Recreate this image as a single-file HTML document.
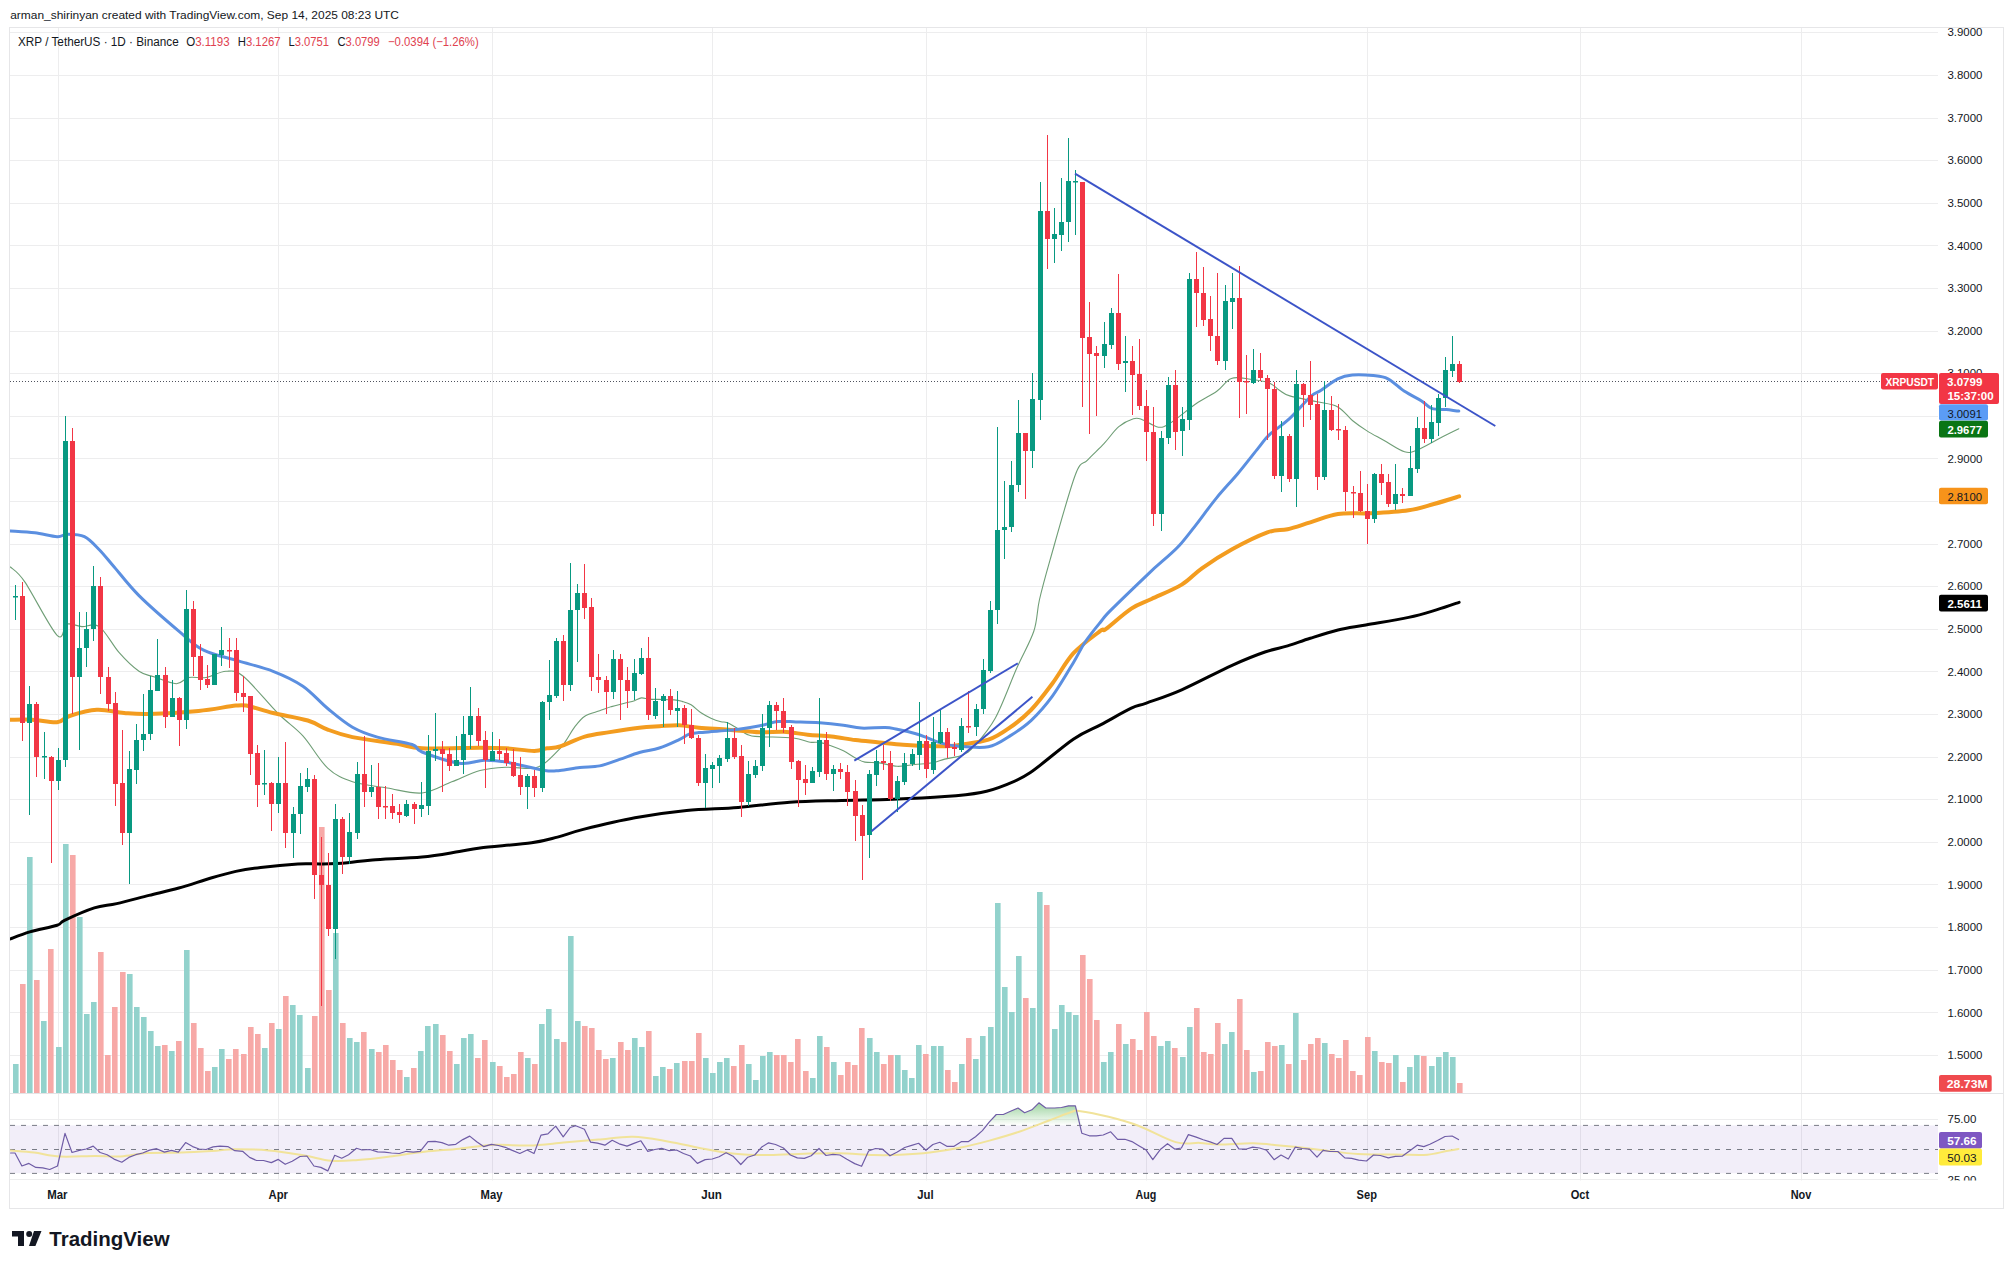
<!DOCTYPE html><html><head><meta charset="utf-8"><style>html,body{margin:0;padding:0;background:#fff;}body{width:2014px;height:1269px;overflow:hidden;position:relative;font-family:"Liberation Sans", sans-serif;}svg{position:absolute;left:0;top:0;}</style></head><body>
<svg width="2014" height="1269" viewBox="0 0 2014 1269" font-family='"Liberation Sans", sans-serif'>
<rect x="0" y="0" width="2014" height="1269" fill="#ffffff"/>
<rect x="9.5" y="27.5" width="1994" height="1181" fill="none" stroke="#e6e6e8" stroke-width="1"/>
<defs><clipPath id="cp"><rect x="10" y="28" width="1928" height="1065"/></clipPath><clipPath id="cr"><rect x="10" y="1094" width="1928" height="86.5"/></clipPath><linearGradient id="gob" x1="0" y1="0" x2="0" y2="1"><stop offset="0" stop-color="#4caf50" stop-opacity="0.55"/><stop offset="1" stop-color="#4caf50" stop-opacity="0.0"/></linearGradient></defs>
<line x1="58.5" y1="28" x2="58.5" y2="1180.5" stroke="#ededee" stroke-width="1"/>
<line x1="278.5" y1="28" x2="278.5" y2="1180.5" stroke="#ededee" stroke-width="1"/>
<line x1="492.5" y1="28" x2="492.5" y2="1180.5" stroke="#ededee" stroke-width="1"/>
<line x1="712.5" y1="28" x2="712.5" y2="1180.5" stroke="#ededee" stroke-width="1"/>
<line x1="926.5" y1="28" x2="926.5" y2="1180.5" stroke="#ededee" stroke-width="1"/>
<line x1="1146.5" y1="28" x2="1146.5" y2="1180.5" stroke="#ededee" stroke-width="1"/>
<line x1="1367.5" y1="28" x2="1367.5" y2="1180.5" stroke="#ededee" stroke-width="1"/>
<line x1="1580.5" y1="28" x2="1580.5" y2="1180.5" stroke="#ededee" stroke-width="1"/>
<line x1="1801.5" y1="28" x2="1801.5" y2="1180.5" stroke="#ededee" stroke-width="1"/>
<line x1="10" y1="32.5" x2="1938" y2="32.5" stroke="#ededee" stroke-width="1"/>
<line x1="10" y1="75.5" x2="1938" y2="75.5" stroke="#ededee" stroke-width="1"/>
<line x1="10" y1="118.5" x2="1938" y2="118.5" stroke="#ededee" stroke-width="1"/>
<line x1="10" y1="160.5" x2="1938" y2="160.5" stroke="#ededee" stroke-width="1"/>
<line x1="10" y1="203.5" x2="1938" y2="203.5" stroke="#ededee" stroke-width="1"/>
<line x1="10" y1="245.5" x2="1938" y2="245.5" stroke="#ededee" stroke-width="1"/>
<line x1="10" y1="288.5" x2="1938" y2="288.5" stroke="#ededee" stroke-width="1"/>
<line x1="10" y1="331.5" x2="1938" y2="331.5" stroke="#ededee" stroke-width="1"/>
<line x1="10" y1="373.5" x2="1938" y2="373.5" stroke="#ededee" stroke-width="1"/>
<line x1="10" y1="416.5" x2="1938" y2="416.5" stroke="#ededee" stroke-width="1"/>
<line x1="10" y1="458.5" x2="1938" y2="458.5" stroke="#ededee" stroke-width="1"/>
<line x1="10" y1="501.5" x2="1938" y2="501.5" stroke="#ededee" stroke-width="1"/>
<line x1="10" y1="544.5" x2="1938" y2="544.5" stroke="#ededee" stroke-width="1"/>
<line x1="10" y1="586.5" x2="1938" y2="586.5" stroke="#ededee" stroke-width="1"/>
<line x1="10" y1="629.5" x2="1938" y2="629.5" stroke="#ededee" stroke-width="1"/>
<line x1="10" y1="671.5" x2="1938" y2="671.5" stroke="#ededee" stroke-width="1"/>
<line x1="10" y1="714.5" x2="1938" y2="714.5" stroke="#ededee" stroke-width="1"/>
<line x1="10" y1="757.5" x2="1938" y2="757.5" stroke="#ededee" stroke-width="1"/>
<line x1="10" y1="799.5" x2="1938" y2="799.5" stroke="#ededee" stroke-width="1"/>
<line x1="10" y1="842.5" x2="1938" y2="842.5" stroke="#ededee" stroke-width="1"/>
<line x1="10" y1="884.5" x2="1938" y2="884.5" stroke="#ededee" stroke-width="1"/>
<line x1="10" y1="927.5" x2="1938" y2="927.5" stroke="#ededee" stroke-width="1"/>
<line x1="10" y1="970.5" x2="1938" y2="970.5" stroke="#ededee" stroke-width="1"/>
<line x1="10" y1="1012.5" x2="1938" y2="1012.5" stroke="#ededee" stroke-width="1"/>
<line x1="10" y1="1055.5" x2="1938" y2="1055.5" stroke="#ededee" stroke-width="1"/>
<line x1="10" y1="1093.5" x2="2003" y2="1093.5" stroke="#e4e4e6" stroke-width="1"/>
<line x1="10" y1="1119.5" x2="1938" y2="1119.5" stroke="#ededee" stroke-width="1"/>
<line x1="10" y1="1179.5" x2="1938" y2="1179.5" stroke="#ededee" stroke-width="1"/>
<g clip-path="url(#cp)">
<rect x="13" y="1064.0" width="5.6" height="29.0" fill="#92d2cc"/>
<rect x="20" y="984.0" width="5.6" height="109.0" fill="#f7a9a7"/>
<rect x="27" y="857.0" width="5.6" height="236.0" fill="#92d2cc"/>
<rect x="34" y="980.0" width="5.6" height="113.0" fill="#f7a9a7"/>
<rect x="41" y="1021.0" width="5.6" height="72.0" fill="#92d2cc"/>
<rect x="48" y="949.0" width="5.6" height="144.0" fill="#f7a9a7"/>
<rect x="56" y="1047.0" width="5.6" height="46.0" fill="#92d2cc"/>
<rect x="63" y="844.0" width="5.6" height="249.0" fill="#92d2cc"/>
<rect x="70" y="855.0" width="5.6" height="238.0" fill="#f7a9a7"/>
<rect x="77" y="917.0" width="5.6" height="176.0" fill="#92d2cc"/>
<rect x="84" y="1014.0" width="5.6" height="79.0" fill="#92d2cc"/>
<rect x="91" y="1002.0" width="5.6" height="91.0" fill="#92d2cc"/>
<rect x="98" y="952.0" width="5.6" height="141.0" fill="#f7a9a7"/>
<rect x="105" y="1055.0" width="5.6" height="38.0" fill="#f7a9a7"/>
<rect x="112" y="1007.0" width="5.6" height="86.0" fill="#f7a9a7"/>
<rect x="120" y="972.0" width="5.6" height="121.0" fill="#f7a9a7"/>
<rect x="127" y="974.0" width="5.6" height="119.0" fill="#92d2cc"/>
<rect x="134" y="1007.0" width="5.6" height="86.0" fill="#92d2cc"/>
<rect x="141" y="1017.0" width="5.6" height="76.0" fill="#92d2cc"/>
<rect x="148" y="1031.0" width="5.6" height="62.0" fill="#92d2cc"/>
<rect x="155" y="1046.0" width="5.6" height="47.0" fill="#92d2cc"/>
<rect x="162" y="1045.0" width="5.6" height="48.0" fill="#f7a9a7"/>
<rect x="169" y="1051.0" width="5.6" height="42.0" fill="#92d2cc"/>
<rect x="176" y="1041.0" width="5.6" height="52.0" fill="#f7a9a7"/>
<rect x="184" y="950.0" width="5.6" height="143.0" fill="#92d2cc"/>
<rect x="191" y="1023.0" width="5.6" height="70.0" fill="#f7a9a7"/>
<rect x="198" y="1048.0" width="5.6" height="45.0" fill="#f7a9a7"/>
<rect x="205" y="1071.0" width="5.6" height="22.0" fill="#f7a9a7"/>
<rect x="212" y="1067.0" width="5.6" height="26.0" fill="#92d2cc"/>
<rect x="219" y="1049.0" width="5.6" height="44.0" fill="#92d2cc"/>
<rect x="226" y="1059.0" width="5.6" height="34.0" fill="#f7a9a7"/>
<rect x="233" y="1049.0" width="5.6" height="44.0" fill="#f7a9a7"/>
<rect x="241" y="1054.0" width="5.6" height="39.0" fill="#f7a9a7"/>
<rect x="248" y="1027.0" width="5.6" height="66.0" fill="#f7a9a7"/>
<rect x="255" y="1034.0" width="5.6" height="59.0" fill="#f7a9a7"/>
<rect x="262" y="1048.0" width="5.6" height="45.0" fill="#92d2cc"/>
<rect x="269" y="1023.0" width="5.6" height="70.0" fill="#f7a9a7"/>
<rect x="276" y="1029.0" width="5.6" height="64.0" fill="#92d2cc"/>
<rect x="283" y="996.0" width="5.6" height="97.0" fill="#f7a9a7"/>
<rect x="290" y="1005.0" width="5.6" height="88.0" fill="#92d2cc"/>
<rect x="297" y="1015.0" width="5.6" height="78.0" fill="#92d2cc"/>
<rect x="305" y="1068.0" width="5.6" height="25.0" fill="#92d2cc"/>
<rect x="312" y="1016.0" width="5.6" height="77.0" fill="#f7a9a7"/>
<rect x="319" y="827.0" width="5.6" height="266.0" fill="#f7a9a7"/>
<rect x="326" y="990.0" width="5.6" height="103.0" fill="#f7a9a7"/>
<rect x="333" y="933.0" width="5.6" height="160.0" fill="#92d2cc"/>
<rect x="340" y="1023.0" width="5.6" height="70.0" fill="#f7a9a7"/>
<rect x="347" y="1038.0" width="5.6" height="55.0" fill="#92d2cc"/>
<rect x="354" y="1042.0" width="5.6" height="51.0" fill="#92d2cc"/>
<rect x="361" y="1032.0" width="5.6" height="61.0" fill="#f7a9a7"/>
<rect x="369" y="1049.0" width="5.6" height="44.0" fill="#92d2cc"/>
<rect x="376" y="1052.0" width="5.6" height="41.0" fill="#f7a9a7"/>
<rect x="383" y="1045.0" width="5.6" height="48.0" fill="#f7a9a7"/>
<rect x="390" y="1060.0" width="5.6" height="33.0" fill="#f7a9a7"/>
<rect x="397" y="1070.0" width="5.6" height="23.0" fill="#f7a9a7"/>
<rect x="404" y="1077.0" width="5.6" height="16.0" fill="#92d2cc"/>
<rect x="411" y="1068.0" width="5.6" height="25.0" fill="#f7a9a7"/>
<rect x="418" y="1051.0" width="5.6" height="42.0" fill="#92d2cc"/>
<rect x="425" y="1026.0" width="5.6" height="67.0" fill="#92d2cc"/>
<rect x="433" y="1024.0" width="5.6" height="69.0" fill="#92d2cc"/>
<rect x="440" y="1035.0" width="5.6" height="58.0" fill="#f7a9a7"/>
<rect x="447" y="1051.0" width="5.6" height="42.0" fill="#f7a9a7"/>
<rect x="454" y="1064.0" width="5.6" height="29.0" fill="#92d2cc"/>
<rect x="461" y="1038.0" width="5.6" height="55.0" fill="#92d2cc"/>
<rect x="468" y="1034.0" width="5.6" height="59.0" fill="#92d2cc"/>
<rect x="475" y="1058.0" width="5.6" height="35.0" fill="#f7a9a7"/>
<rect x="482" y="1040.0" width="5.6" height="53.0" fill="#f7a9a7"/>
<rect x="490" y="1062.0" width="5.6" height="31.0" fill="#92d2cc"/>
<rect x="497" y="1066.0" width="5.6" height="27.0" fill="#f7a9a7"/>
<rect x="504" y="1077.0" width="5.6" height="16.0" fill="#f7a9a7"/>
<rect x="511" y="1074.0" width="5.6" height="19.0" fill="#f7a9a7"/>
<rect x="518" y="1052.0" width="5.6" height="41.0" fill="#f7a9a7"/>
<rect x="525" y="1058.0" width="5.6" height="35.0" fill="#92d2cc"/>
<rect x="532" y="1064.0" width="5.6" height="29.0" fill="#f7a9a7"/>
<rect x="539" y="1024.0" width="5.6" height="69.0" fill="#92d2cc"/>
<rect x="546" y="1009.0" width="5.6" height="84.0" fill="#92d2cc"/>
<rect x="554" y="1039.0" width="5.6" height="54.0" fill="#92d2cc"/>
<rect x="561" y="1042.0" width="5.6" height="51.0" fill="#f7a9a7"/>
<rect x="568" y="936.0" width="5.6" height="157.0" fill="#92d2cc"/>
<rect x="575" y="1021.0" width="5.6" height="72.0" fill="#92d2cc"/>
<rect x="582" y="1026.0" width="5.6" height="67.0" fill="#f7a9a7"/>
<rect x="589" y="1028.0" width="5.6" height="65.0" fill="#f7a9a7"/>
<rect x="596" y="1050.0" width="5.6" height="43.0" fill="#f7a9a7"/>
<rect x="603" y="1059.0" width="5.6" height="34.0" fill="#f7a9a7"/>
<rect x="610" y="1058.0" width="5.6" height="35.0" fill="#92d2cc"/>
<rect x="618" y="1042.0" width="5.6" height="51.0" fill="#f7a9a7"/>
<rect x="625" y="1050.0" width="5.6" height="43.0" fill="#f7a9a7"/>
<rect x="632" y="1038.0" width="5.6" height="55.0" fill="#92d2cc"/>
<rect x="639" y="1047.0" width="5.6" height="46.0" fill="#92d2cc"/>
<rect x="646" y="1031.0" width="5.6" height="62.0" fill="#f7a9a7"/>
<rect x="653" y="1076.0" width="5.6" height="17.0" fill="#92d2cc"/>
<rect x="660" y="1067.0" width="5.6" height="26.0" fill="#92d2cc"/>
<rect x="667" y="1069.0" width="5.6" height="24.0" fill="#f7a9a7"/>
<rect x="674" y="1063.0" width="5.6" height="30.0" fill="#92d2cc"/>
<rect x="682" y="1061.0" width="5.6" height="32.0" fill="#f7a9a7"/>
<rect x="689" y="1061.0" width="5.6" height="32.0" fill="#f7a9a7"/>
<rect x="696" y="1033.0" width="5.6" height="60.0" fill="#f7a9a7"/>
<rect x="703" y="1058.0" width="5.6" height="35.0" fill="#92d2cc"/>
<rect x="710" y="1073.0" width="5.6" height="20.0" fill="#92d2cc"/>
<rect x="717" y="1062.0" width="5.6" height="31.0" fill="#92d2cc"/>
<rect x="724" y="1058.0" width="5.6" height="35.0" fill="#92d2cc"/>
<rect x="731" y="1066.0" width="5.6" height="27.0" fill="#f7a9a7"/>
<rect x="739" y="1045.0" width="5.6" height="48.0" fill="#f7a9a7"/>
<rect x="746" y="1064.0" width="5.6" height="29.0" fill="#92d2cc"/>
<rect x="753" y="1080.0" width="5.6" height="13.0" fill="#92d2cc"/>
<rect x="760" y="1056.0" width="5.6" height="37.0" fill="#92d2cc"/>
<rect x="767" y="1052.0" width="5.6" height="41.0" fill="#92d2cc"/>
<rect x="774" y="1055.0" width="5.6" height="38.0" fill="#f7a9a7"/>
<rect x="781" y="1055.0" width="5.6" height="38.0" fill="#f7a9a7"/>
<rect x="788" y="1062.0" width="5.6" height="31.0" fill="#f7a9a7"/>
<rect x="795" y="1039.0" width="5.6" height="54.0" fill="#f7a9a7"/>
<rect x="803" y="1071.0" width="5.6" height="22.0" fill="#f7a9a7"/>
<rect x="810" y="1078.0" width="5.6" height="15.0" fill="#92d2cc"/>
<rect x="817" y="1036.0" width="5.6" height="57.0" fill="#92d2cc"/>
<rect x="824" y="1047.0" width="5.6" height="46.0" fill="#f7a9a7"/>
<rect x="831" y="1062.0" width="5.6" height="31.0" fill="#92d2cc"/>
<rect x="838" y="1075.0" width="5.6" height="18.0" fill="#f7a9a7"/>
<rect x="845" y="1062.0" width="5.6" height="31.0" fill="#f7a9a7"/>
<rect x="852" y="1065.0" width="5.6" height="28.0" fill="#f7a9a7"/>
<rect x="859" y="1028.0" width="5.6" height="65.0" fill="#f7a9a7"/>
<rect x="867" y="1038.0" width="5.6" height="55.0" fill="#92d2cc"/>
<rect x="874" y="1052.0" width="5.6" height="41.0" fill="#92d2cc"/>
<rect x="881" y="1064.0" width="5.6" height="29.0" fill="#f7a9a7"/>
<rect x="888" y="1055.0" width="5.6" height="38.0" fill="#f7a9a7"/>
<rect x="895" y="1055.0" width="5.6" height="38.0" fill="#92d2cc"/>
<rect x="902" y="1070.0" width="5.6" height="23.0" fill="#92d2cc"/>
<rect x="909" y="1078.0" width="5.6" height="15.0" fill="#92d2cc"/>
<rect x="916" y="1045.0" width="5.6" height="48.0" fill="#92d2cc"/>
<rect x="923" y="1054.0" width="5.6" height="39.0" fill="#f7a9a7"/>
<rect x="931" y="1046.0" width="5.6" height="47.0" fill="#92d2cc"/>
<rect x="938" y="1046.0" width="5.6" height="47.0" fill="#92d2cc"/>
<rect x="945" y="1070.0" width="5.6" height="23.0" fill="#f7a9a7"/>
<rect x="952" y="1082.0" width="5.6" height="11.0" fill="#f7a9a7"/>
<rect x="959" y="1064.0" width="5.6" height="29.0" fill="#92d2cc"/>
<rect x="966" y="1038.0" width="5.6" height="55.0" fill="#f7a9a7"/>
<rect x="973" y="1059.0" width="5.6" height="34.0" fill="#92d2cc"/>
<rect x="980" y="1036.0" width="5.6" height="57.0" fill="#92d2cc"/>
<rect x="988" y="1027.0" width="5.6" height="66.0" fill="#92d2cc"/>
<rect x="995" y="903.0" width="5.6" height="190.0" fill="#92d2cc"/>
<rect x="1002" y="987.0" width="5.6" height="106.0" fill="#92d2cc"/>
<rect x="1009" y="1012.0" width="5.6" height="81.0" fill="#92d2cc"/>
<rect x="1016" y="956.0" width="5.6" height="137.0" fill="#92d2cc"/>
<rect x="1023" y="998.0" width="5.6" height="95.0" fill="#f7a9a7"/>
<rect x="1030" y="1008.0" width="5.6" height="85.0" fill="#92d2cc"/>
<rect x="1037" y="892.0" width="5.6" height="201.0" fill="#92d2cc"/>
<rect x="1044" y="905.0" width="5.6" height="188.0" fill="#f7a9a7"/>
<rect x="1052" y="1029.0" width="5.6" height="64.0" fill="#92d2cc"/>
<rect x="1059" y="1005.0" width="5.6" height="88.0" fill="#92d2cc"/>
<rect x="1066" y="1012.0" width="5.6" height="81.0" fill="#92d2cc"/>
<rect x="1073" y="1015.0" width="5.6" height="78.0" fill="#92d2cc"/>
<rect x="1080" y="955.0" width="5.6" height="138.0" fill="#f7a9a7"/>
<rect x="1087" y="979.0" width="5.6" height="114.0" fill="#f7a9a7"/>
<rect x="1094" y="1020.0" width="5.6" height="73.0" fill="#f7a9a7"/>
<rect x="1101" y="1062.0" width="5.6" height="31.0" fill="#92d2cc"/>
<rect x="1108" y="1052.0" width="5.6" height="41.0" fill="#92d2cc"/>
<rect x="1116" y="1024.0" width="5.6" height="69.0" fill="#f7a9a7"/>
<rect x="1123" y="1044.0" width="5.6" height="49.0" fill="#92d2cc"/>
<rect x="1130" y="1039.0" width="5.6" height="54.0" fill="#f7a9a7"/>
<rect x="1137" y="1050.0" width="5.6" height="43.0" fill="#f7a9a7"/>
<rect x="1144" y="1012.0" width="5.6" height="81.0" fill="#f7a9a7"/>
<rect x="1151" y="1036.0" width="5.6" height="57.0" fill="#f7a9a7"/>
<rect x="1158" y="1046.0" width="5.6" height="47.0" fill="#92d2cc"/>
<rect x="1165" y="1041.0" width="5.6" height="52.0" fill="#92d2cc"/>
<rect x="1172" y="1048.0" width="5.6" height="45.0" fill="#f7a9a7"/>
<rect x="1180" y="1057.0" width="5.6" height="36.0" fill="#92d2cc"/>
<rect x="1187" y="1027.0" width="5.6" height="66.0" fill="#92d2cc"/>
<rect x="1194" y="1008.0" width="5.6" height="85.0" fill="#f7a9a7"/>
<rect x="1201" y="1052.0" width="5.6" height="41.0" fill="#f7a9a7"/>
<rect x="1208" y="1054.0" width="5.6" height="39.0" fill="#f7a9a7"/>
<rect x="1215" y="1023.0" width="5.6" height="70.0" fill="#f7a9a7"/>
<rect x="1222" y="1044.0" width="5.6" height="49.0" fill="#92d2cc"/>
<rect x="1229" y="1032.0" width="5.6" height="61.0" fill="#92d2cc"/>
<rect x="1237" y="999.0" width="5.6" height="94.0" fill="#f7a9a7"/>
<rect x="1244" y="1050.0" width="5.6" height="43.0" fill="#f7a9a7"/>
<rect x="1251" y="1072.0" width="5.6" height="21.0" fill="#92d2cc"/>
<rect x="1258" y="1071.0" width="5.6" height="22.0" fill="#f7a9a7"/>
<rect x="1265" y="1042.0" width="5.6" height="51.0" fill="#f7a9a7"/>
<rect x="1272" y="1046.0" width="5.6" height="47.0" fill="#f7a9a7"/>
<rect x="1279" y="1045.0" width="5.6" height="48.0" fill="#92d2cc"/>
<rect x="1286" y="1064.0" width="5.6" height="29.0" fill="#f7a9a7"/>
<rect x="1293" y="1013.0" width="5.6" height="80.0" fill="#92d2cc"/>
<rect x="1301" y="1060.0" width="5.6" height="33.0" fill="#f7a9a7"/>
<rect x="1308" y="1044.0" width="5.6" height="49.0" fill="#f7a9a7"/>
<rect x="1315" y="1038.0" width="5.6" height="55.0" fill="#f7a9a7"/>
<rect x="1322" y="1043.0" width="5.6" height="50.0" fill="#92d2cc"/>
<rect x="1329" y="1054.0" width="5.6" height="39.0" fill="#f7a9a7"/>
<rect x="1336" y="1058.0" width="5.6" height="35.0" fill="#f7a9a7"/>
<rect x="1343" y="1040.0" width="5.6" height="53.0" fill="#f7a9a7"/>
<rect x="1350" y="1071.0" width="5.6" height="22.0" fill="#f7a9a7"/>
<rect x="1357" y="1075.0" width="5.6" height="18.0" fill="#f7a9a7"/>
<rect x="1365" y="1037.0" width="5.6" height="56.0" fill="#f7a9a7"/>
<rect x="1372" y="1051.0" width="5.6" height="42.0" fill="#92d2cc"/>
<rect x="1379" y="1062.0" width="5.6" height="31.0" fill="#f7a9a7"/>
<rect x="1386" y="1063.0" width="5.6" height="30.0" fill="#f7a9a7"/>
<rect x="1393" y="1055.0" width="5.6" height="38.0" fill="#92d2cc"/>
<rect x="1400" y="1082.0" width="5.6" height="11.0" fill="#f7a9a7"/>
<rect x="1407" y="1067.0" width="5.6" height="26.0" fill="#92d2cc"/>
<rect x="1414" y="1055.0" width="5.6" height="38.0" fill="#92d2cc"/>
<rect x="1421" y="1056.0" width="5.6" height="37.0" fill="#f7a9a7"/>
<rect x="1429" y="1066.0" width="5.6" height="27.0" fill="#92d2cc"/>
<rect x="1436" y="1057.0" width="5.6" height="36.0" fill="#92d2cc"/>
<rect x="1443" y="1052.0" width="5.6" height="41.0" fill="#92d2cc"/>
<rect x="1450" y="1057.0" width="5.6" height="36.0" fill="#92d2cc"/>
<rect x="1457" y="1083.0" width="5.6" height="10.0" fill="#f7a9a7"/>
<line x1="10" y1="381.5" x2="1938" y2="381.5" stroke="#50535e" stroke-width="1" stroke-dasharray="1 2"/>
<path d="M10.4,938.9 C13.6,937.7 22.0,934.2 29.8,931.9 C37.6,929.6 51.3,927.1 57.1,925.2 C62.9,923.3 58.3,923.2 64.5,920.3 C70.7,917.4 85.6,910.7 94.3,907.9 C103.0,905.1 107.6,905.7 116.7,903.6 C125.8,901.5 138.7,898.0 149.0,895.4 C159.3,892.8 168.5,890.9 178.8,888.0 C189.1,885.1 201.5,880.8 211.0,878.0 C220.5,875.2 227.5,873.2 235.8,871.4 C244.1,869.6 250.3,868.6 260.7,867.4 C271.0,866.1 287.6,864.5 297.9,863.9 C308.2,863.3 314.4,864.1 322.7,863.9 C331.0,863.7 339.3,863.4 347.6,862.7 C355.9,862.0 360.0,860.9 372.4,859.9 C384.8,858.9 407.5,858.4 422.0,857.0 C436.5,855.6 449.6,853.0 459.3,851.5 C469.0,850.0 467.9,849.5 480.0,848.0 C492.1,846.5 518.7,844.6 531.6,842.8 C544.5,841.0 548.9,839.3 557.5,837.1 C566.1,834.9 570.4,832.6 583.3,829.4 C596.2,826.2 617.7,820.9 634.9,817.8 C652.1,814.6 669.4,812.2 686.6,810.5 C703.8,808.8 721.0,808.8 738.2,807.4 C755.4,806.0 772.6,803.4 789.8,802.3 C807.0,801.1 824.3,801.0 841.5,800.5 C858.7,800.0 875.9,799.9 893.1,799.2 C910.3,798.6 930.2,797.7 944.8,796.6 C959.4,795.5 970.8,794.4 980.9,792.5 C991.0,790.6 997.0,788.4 1005.2,785.1 C1013.5,781.8 1019.1,780.1 1030.4,772.5 C1041.8,764.9 1061.5,747.2 1073.3,739.2 C1085.1,731.2 1091.3,729.8 1101.0,724.6 C1110.7,719.4 1123.7,711.8 1131.3,708.2 C1138.9,704.6 1138.0,706.2 1146.4,703.1 C1154.8,700.0 1167.4,696.1 1181.7,689.8 C1196.0,683.5 1218.2,671.6 1232.1,665.3 C1246.0,659.0 1255.7,655.2 1264.9,652.0 C1274.2,648.8 1280.0,648.2 1287.6,645.9 C1295.2,643.6 1301.9,640.9 1310.3,638.3 C1318.7,635.6 1328.8,632.2 1338.0,630.0 C1347.2,627.8 1354.0,627.1 1365.8,625.0 C1377.6,622.9 1396.8,619.9 1408.6,617.4 C1420.4,614.9 1428.0,612.4 1436.4,609.9 C1444.8,607.4 1455.3,603.6 1459.1,602.3" fill="none" stroke="#000000" stroke-width="3" stroke-linejoin="round" stroke-linecap="round" />
<path d="M10.4,567.0 C12.8,569.5 17.0,570.5 24.8,581.9 C32.6,593.3 50.1,628.3 57.1,635.3 C64.1,642.3 62.9,625.5 67.0,624.1 C71.1,622.7 76.5,626.2 81.9,626.6 C87.3,627.0 93.1,622.2 99.3,626.6 C105.5,631.0 112.6,645.2 119.2,652.7 C125.8,660.2 133.2,667.3 139.0,671.3 C144.8,675.3 147.7,674.7 153.9,676.8 C160.1,678.9 170.5,683.6 176.3,683.7 C182.1,683.8 183.7,678.5 188.7,677.5 C193.7,676.5 199.9,678.5 206.1,677.5 C212.3,676.5 219.7,671.5 225.9,671.3 C232.1,671.1 234.6,669.3 243.3,676.3 C252.0,683.3 268.2,703.6 278.1,713.5 C288.0,723.4 294.6,726.8 302.9,735.9 C311.2,745.0 319.4,760.5 327.7,768.1 C336.0,775.8 342.6,778.5 352.5,781.8 C362.4,785.1 375.7,786.1 387.3,788.0 C398.9,789.9 411.2,794.0 422.0,793.0 C432.8,792.0 442.1,785.5 451.8,781.8 C461.5,778.0 471.0,772.9 480.0,770.5 C489.0,768.1 497.2,767.6 505.8,767.2 C514.4,766.9 525.1,769.0 531.6,768.4 C538.1,767.8 539.8,766.6 544.5,763.3 C549.2,760.0 556.4,752.3 560.0,748.5 C563.6,744.7 563.5,744.2 566.0,740.6 C568.5,737.0 571.8,730.8 574.9,726.7 C578.0,722.6 580.7,718.9 584.8,716.2 C588.9,713.6 595.2,712.4 599.7,710.8 C604.2,709.2 607.5,707.9 611.6,706.6 C615.7,705.4 620.7,704.3 624.5,703.3 C628.3,702.3 631.7,701.6 634.5,700.7 C637.3,699.8 638.9,698.2 641.4,697.9 C643.9,697.6 646.4,698.9 649.4,699.1 C652.4,699.4 655.2,699.3 659.3,699.4 C663.4,699.5 670.4,699.6 674.2,699.9 C678.0,700.2 679.3,700.6 682.1,701.4 C684.9,702.2 688.0,702.9 691.1,704.8 C694.2,706.7 697.7,710.6 701.0,712.8 C704.3,715.0 707.6,716.7 710.9,718.2 C714.2,719.7 718.2,721.0 720.9,721.7 C723.5,722.4 724.5,721.7 726.8,722.5 C729.1,723.3 731.1,724.6 734.8,726.7 C738.4,728.8 744.5,733.5 748.7,735.1 C752.9,736.8 752.5,736.1 760.0,736.6 C767.5,737.1 785.0,737.1 793.4,738.0 C801.8,738.9 805.7,741.5 810.1,742.2 C814.5,742.9 816.0,741.8 819.6,742.4 C823.2,743.0 827.5,744.6 831.5,746.0 C835.5,747.4 839.4,748.8 843.4,750.8 C847.4,752.8 851.8,756.0 855.4,757.9 C859.0,759.8 860.9,761.3 864.9,762.1 C868.9,762.9 873.8,762.2 879.2,762.9 C884.6,763.6 891.1,766.0 897.1,766.3 C903.1,766.6 909.0,765.1 915.0,764.5 C921.0,763.9 927.8,763.6 932.8,762.7 C937.8,761.8 939.7,760.4 944.7,759.1 C949.7,757.8 957.7,757.2 962.6,755.0 C967.5,752.8 968.7,752.3 974.2,746.1 C979.7,739.9 988.4,730.7 995.5,717.7 C1002.6,704.7 1010.4,682.4 1016.8,668.0 C1023.2,653.6 1030.0,642.5 1033.8,631.2 C1037.6,619.9 1036.7,611.8 1039.4,600.0 C1042.1,588.2 1044.1,580.9 1050.0,560.2 C1055.9,539.5 1068.8,492.4 1075.0,475.7 C1081.2,459.0 1082.6,465.5 1087.5,460.1 C1092.4,454.7 1099.0,449.0 1104.2,443.4 C1109.4,437.8 1113.9,430.8 1118.8,426.7 C1123.7,422.6 1129.6,420.0 1133.4,418.8 C1137.2,417.6 1137.6,418.0 1141.8,419.4 C1146.0,420.8 1153.5,426.7 1158.4,427.2 C1163.3,427.7 1164.7,426.5 1171.0,422.6 C1177.3,418.7 1188.4,409.0 1196.0,403.8 C1203.6,398.6 1210.9,395.5 1216.8,391.3 C1222.7,387.1 1225.8,380.4 1231.4,378.4 C1237.0,376.4 1243.9,378.4 1250.2,379.2 C1256.5,379.9 1264.1,381.1 1269.0,382.9 C1273.9,384.7 1275.9,388.0 1279.4,390.2 C1282.9,392.4 1283.5,394.0 1289.8,395.9 C1296.0,397.8 1308.9,399.9 1316.9,401.7 C1324.9,403.5 1331.9,403.8 1337.8,406.9 C1343.7,410.0 1347.5,416.5 1352.4,420.5 C1357.3,424.5 1361.8,427.6 1367.0,430.9 C1372.2,434.2 1377.5,436.8 1383.7,440.3 C1390.0,443.8 1399.0,450.2 1404.5,451.8 C1410.0,453.4 1411.4,452.2 1417.0,450.1 C1422.6,448.0 1430.9,442.8 1437.9,439.2 C1444.9,435.6 1455.3,430.5 1458.8,428.8" fill="none" stroke="#6f9e76" stroke-width="1.1" stroke-linejoin="round" stroke-linecap="round" />
<path d="M10.4,719.7 C14.1,719.7 24.5,719.3 32.3,719.7 C40.1,720.1 50.9,722.8 57.1,722.2 C63.3,721.6 62.9,718.1 69.5,716.0 C76.1,713.9 87.7,710.3 96.8,709.8 C105.9,709.3 115.4,712.3 124.1,713.0 C132.8,713.7 136.6,714.3 149.0,714.0 C161.4,713.7 184.1,712.4 198.6,711.0 C213.1,709.6 227.5,706.4 235.8,705.6 C244.1,704.8 242.1,704.8 248.3,706.0 C254.5,707.2 263.2,710.6 273.1,713.0 C283.0,715.4 298.7,717.7 307.8,720.5 C316.9,723.3 320.2,726.8 327.7,729.6 C335.1,732.4 340.9,734.7 352.5,737.1 C364.1,739.5 385.6,741.9 397.2,743.8 C408.8,745.7 408.2,747.6 422.0,748.3 C435.8,749.0 466.0,747.8 480.0,747.8 C494.0,747.8 496.8,747.8 505.8,748.3 C514.8,748.8 527.3,750.9 534.2,750.9 C541.1,750.9 542.8,749.0 547.1,748.3 C551.4,747.6 553.7,748.5 560.0,746.5 C566.3,744.5 576.5,739.0 584.8,736.6 C593.1,734.2 600.6,733.6 609.7,732.1 C618.8,730.6 631.1,728.7 639.4,727.7 C647.7,726.7 652.7,726.6 659.3,726.2 C665.9,725.8 672.6,725.0 679.2,725.2 C685.8,725.5 690.7,727.0 699.0,727.7 C707.3,728.5 718.6,728.9 728.8,729.7 C739.0,730.5 750.8,732.0 760.0,732.3 C769.2,732.6 775.8,731.3 783.8,731.7 C791.8,732.1 799.8,733.9 807.7,734.7 C815.7,735.5 823.5,735.6 831.5,736.5 C839.5,737.4 847.4,739.1 855.4,740.1 C863.4,741.1 871.3,741.6 879.2,742.4 C887.1,743.2 895.0,744.2 903.0,744.8 C911.0,745.4 918.9,745.8 926.9,746.0 C934.9,746.2 945.2,746.2 950.7,746.0 C956.2,745.8 953.7,745.8 960.0,744.7 C966.3,743.7 980.1,742.5 988.4,739.7 C996.7,736.9 1002.6,732.7 1009.7,727.7 C1016.8,722.8 1023.9,717.3 1031.0,710.0 C1038.1,702.7 1045.1,693.2 1052.2,683.7 C1059.3,674.2 1065.5,662.0 1073.5,653.2 C1081.5,644.5 1094.6,635.3 1100.0,631.2 C1105.4,627.1 1100.9,632.6 1106.1,628.8 C1111.3,625.0 1123.7,613.6 1131.3,608.6 C1138.9,603.6 1143.1,603.0 1151.5,599.0 C1159.9,595.0 1173.3,589.7 1181.7,584.6 C1190.1,579.5 1193.5,574.2 1201.9,568.3 C1210.3,562.4 1221.2,555.3 1232.1,549.3 C1243.0,543.3 1258.2,535.8 1267.4,532.4 C1276.7,529.0 1280.4,530.9 1287.6,529.2 C1294.8,527.5 1301.9,524.9 1310.3,522.4 C1318.7,519.9 1327.9,515.5 1338.0,514.0 C1348.1,512.5 1359.0,513.9 1370.8,513.3 C1382.6,512.7 1398.1,511.9 1408.6,510.3 C1419.1,508.8 1425.5,506.3 1433.9,504.0 C1442.3,501.7 1454.9,497.7 1459.1,496.4" fill="none" stroke="#f39c1f" stroke-width="4" stroke-linejoin="round" stroke-linecap="round" />
<path d="M10.4,531.0 C14.5,531.3 27.0,531.8 34.8,532.8 C42.6,533.8 51.7,536.5 57.1,536.7 C62.5,537.0 62.5,534.3 67.0,534.3 C71.5,534.3 79.0,534.1 84.4,536.7 C89.8,539.3 94.3,544.7 99.3,549.7 C104.3,554.8 107.6,559.4 114.2,567.0 C120.8,574.6 128.2,584.9 139.0,595.6 C149.8,606.3 168.0,622.0 178.8,631.1 C189.6,640.2 193.7,645.2 203.6,650.2 C213.5,655.2 226.7,657.4 238.3,660.9 C249.9,664.4 262.3,667.1 273.1,671.3 C283.9,675.5 293.8,680.0 302.9,686.2 C312.0,692.4 319.4,701.7 327.7,708.5 C336.0,715.3 344.2,722.4 352.5,727.2 C360.8,732.0 367.5,734.2 377.4,737.1 C387.3,740.0 404.7,742.0 412.1,744.5 C419.5,747.0 414.1,748.9 422.0,752.0 C429.9,755.1 448.9,761.8 459.3,763.2 C469.7,764.6 476.4,760.4 484.1,760.2 C491.9,760.0 495.7,760.3 505.8,762.0 C515.9,763.7 535.5,769.1 544.5,770.5 C553.5,771.9 554.1,770.9 560.0,770.4 C565.9,769.9 573.3,768.1 579.9,767.4 C586.5,766.6 593.1,767.2 599.7,765.9 C606.3,764.6 613.0,761.6 619.6,759.4 C626.2,757.2 632.8,754.4 639.4,752.5 C646.0,750.6 652.7,750.1 659.3,748.0 C665.9,745.9 674.2,741.9 679.2,739.6 C684.2,737.3 685.8,735.3 689.1,734.1 C692.4,732.9 694.0,733.1 699.0,732.6 C704.0,732.1 712.3,731.7 718.9,731.1 C725.5,730.5 731.9,730.1 738.7,729.2 C745.6,728.3 753.5,727.1 760.0,725.8 C766.5,724.5 771.9,722.2 777.9,721.6 C783.9,721.0 788.8,721.7 795.8,721.9 C802.8,722.1 811.7,722.2 819.6,722.8 C827.5,723.3 836.5,724.3 843.4,725.2 C850.3,726.1 854.3,727.7 861.3,728.1 C868.2,728.5 879.1,727.3 885.1,727.5 C891.1,727.7 892.1,728.3 897.1,729.3 C902.1,730.3 910.0,732.1 915.0,733.5 C920.0,734.9 922.9,736.2 926.9,737.7 C930.9,739.2 933.8,741.0 938.8,742.4 C943.8,743.8 948.4,745.3 956.7,746.0 C965.0,746.7 979.6,748.4 988.4,746.8 C997.2,745.1 1002.6,740.5 1009.7,736.1 C1016.8,731.7 1023.9,727.2 1031.0,720.6 C1038.1,714.0 1045.1,706.1 1052.2,696.4 C1059.3,686.7 1068.1,671.4 1073.5,662.4 C1078.9,653.4 1080.4,649.1 1084.8,642.5 C1089.2,635.9 1095.6,628.1 1100.0,622.7 C1104.4,617.3 1102.9,618.1 1111.1,609.9 C1119.2,601.7 1140.0,581.8 1148.9,573.3 C1157.8,564.8 1159.6,563.8 1164.7,559.2 C1169.8,554.6 1174.1,551.3 1179.3,545.6 C1184.5,539.9 1189.8,532.8 1196.0,524.8 C1202.2,516.8 1209.8,506.1 1216.8,497.6 C1223.8,489.1 1230.7,482.0 1237.7,473.7 C1244.7,465.4 1253.4,454.0 1258.6,447.6 C1263.8,441.2 1263.8,440.0 1269.0,435.1 C1274.2,430.2 1282.8,424.8 1289.8,418.4 C1296.8,412.0 1305.5,401.2 1310.7,396.5 C1315.9,391.8 1316.6,393.1 1321.1,390.2 C1325.6,387.2 1332.6,381.3 1337.8,378.8 C1343.0,376.3 1346.5,375.5 1352.4,375.0 C1358.3,374.5 1367.4,375.0 1373.3,375.6 C1379.2,376.2 1382.7,376.2 1387.9,378.8 C1393.1,381.4 1399.0,387.7 1404.5,391.3 C1410.0,394.9 1416.7,397.9 1421.2,400.7 C1425.7,403.5 1427.4,406.9 1431.6,408.4 C1435.8,409.9 1441.7,409.2 1446.2,409.6 C1450.7,410.1 1456.7,410.9 1458.8,411.1" fill="none" stroke="#5b8fe0" stroke-width="3" stroke-linejoin="round" stroke-linecap="round" />
<rect x="15" y="585.0" width="1" height="35.0" fill="#089981"/>
<rect x="13" y="596.0" width="5" height="1.5" fill="#089981"/>
<rect x="22" y="582.0" width="1" height="159.0" fill="#f23645"/>
<rect x="20" y="596.0" width="5" height="127.0" fill="#f23645"/>
<rect x="29" y="686.0" width="1" height="129.0" fill="#089981"/>
<rect x="27" y="704.0" width="5" height="19.0" fill="#089981"/>
<rect x="36" y="702.0" width="1" height="75.0" fill="#f23645"/>
<rect x="34" y="704.0" width="5" height="53.0" fill="#f23645"/>
<rect x="44" y="732.0" width="1" height="47.0" fill="#089981"/>
<rect x="42" y="756.0" width="5" height="1.5" fill="#089981"/>
<rect x="51" y="756.0" width="1" height="107.0" fill="#f23645"/>
<rect x="49" y="757.0" width="5" height="24.0" fill="#f23645"/>
<rect x="58" y="748.0" width="1" height="42.0" fill="#089981"/>
<rect x="56" y="760.0" width="5" height="21.0" fill="#089981"/>
<rect x="65" y="416.0" width="1" height="351.0" fill="#089981"/>
<rect x="63" y="441.0" width="5" height="319.0" fill="#089981"/>
<rect x="72" y="428.0" width="1" height="286.0" fill="#f23645"/>
<rect x="70" y="441.0" width="5" height="236.0" fill="#f23645"/>
<rect x="79" y="612.0" width="1" height="138.0" fill="#089981"/>
<rect x="77" y="648.0" width="5" height="29.0" fill="#089981"/>
<rect x="86" y="612.0" width="1" height="55.0" fill="#089981"/>
<rect x="84" y="629.0" width="5" height="19.0" fill="#089981"/>
<rect x="93" y="566.0" width="1" height="75.0" fill="#089981"/>
<rect x="91" y="586.0" width="5" height="43.0" fill="#089981"/>
<rect x="100" y="577.0" width="1" height="117.0" fill="#f23645"/>
<rect x="98" y="586.0" width="5" height="91.0" fill="#f23645"/>
<rect x="108" y="667.0" width="1" height="44.0" fill="#f23645"/>
<rect x="106" y="677.0" width="5" height="27.0" fill="#f23645"/>
<rect x="115" y="692.0" width="1" height="114.0" fill="#f23645"/>
<rect x="113" y="703.0" width="5" height="81.0" fill="#f23645"/>
<rect x="122" y="730.0" width="1" height="115.0" fill="#f23645"/>
<rect x="120" y="783.0" width="5" height="50.0" fill="#f23645"/>
<rect x="129" y="751.0" width="1" height="133.0" fill="#089981"/>
<rect x="127" y="769.0" width="5" height="64.0" fill="#089981"/>
<rect x="136" y="724.0" width="1" height="60.0" fill="#089981"/>
<rect x="134" y="740.0" width="5" height="30.0" fill="#089981"/>
<rect x="143" y="694.0" width="1" height="57.0" fill="#089981"/>
<rect x="141" y="734.0" width="5" height="6.0" fill="#089981"/>
<rect x="150" y="676.0" width="1" height="64.0" fill="#089981"/>
<rect x="148" y="690.0" width="5" height="44.0" fill="#089981"/>
<rect x="157" y="639.0" width="1" height="52.0" fill="#089981"/>
<rect x="155" y="675.0" width="5" height="16.0" fill="#089981"/>
<rect x="165" y="667.0" width="1" height="61.0" fill="#f23645"/>
<rect x="163" y="675.0" width="5" height="42.0" fill="#f23645"/>
<rect x="172" y="680.0" width="1" height="37.0" fill="#089981"/>
<rect x="170" y="698.0" width="5" height="19.0" fill="#089981"/>
<rect x="179" y="697.0" width="1" height="49.0" fill="#f23645"/>
<rect x="177" y="698.0" width="5" height="22.0" fill="#f23645"/>
<rect x="186" y="590.0" width="1" height="139.0" fill="#089981"/>
<rect x="184" y="609.0" width="5" height="111.0" fill="#089981"/>
<rect x="193" y="601.0" width="1" height="75.0" fill="#f23645"/>
<rect x="191" y="609.0" width="5" height="48.0" fill="#f23645"/>
<rect x="200" y="644.0" width="1" height="46.0" fill="#f23645"/>
<rect x="198" y="656.0" width="5" height="24.0" fill="#f23645"/>
<rect x="207" y="665.0" width="1" height="23.0" fill="#f23645"/>
<rect x="205" y="679.0" width="5" height="6.0" fill="#f23645"/>
<rect x="214" y="654.0" width="1" height="31.0" fill="#089981"/>
<rect x="212" y="654.0" width="5" height="31.0" fill="#089981"/>
<rect x="221" y="627.0" width="1" height="39.0" fill="#089981"/>
<rect x="219" y="650.0" width="5" height="5.0" fill="#089981"/>
<rect x="229" y="638.0" width="1" height="30.0" fill="#f23645"/>
<rect x="227" y="650.0" width="5" height="1.5" fill="#f23645"/>
<rect x="236" y="638.0" width="1" height="63.0" fill="#f23645"/>
<rect x="234" y="650.0" width="5" height="43.0" fill="#f23645"/>
<rect x="243" y="676.0" width="1" height="36.0" fill="#f23645"/>
<rect x="241" y="693.0" width="5" height="4.0" fill="#f23645"/>
<rect x="250" y="696.0" width="1" height="79.0" fill="#f23645"/>
<rect x="248" y="696.0" width="5" height="58.0" fill="#f23645"/>
<rect x="257" y="745.0" width="1" height="62.0" fill="#f23645"/>
<rect x="255" y="753.0" width="5" height="32.0" fill="#f23645"/>
<rect x="264" y="750.0" width="1" height="45.0" fill="#089981"/>
<rect x="262" y="783.0" width="5" height="1.5" fill="#089981"/>
<rect x="271" y="782.0" width="1" height="49.0" fill="#f23645"/>
<rect x="269" y="783.0" width="5" height="21.0" fill="#f23645"/>
<rect x="278" y="757.0" width="1" height="56.0" fill="#089981"/>
<rect x="276" y="783.0" width="5" height="21.0" fill="#089981"/>
<rect x="285" y="742.0" width="1" height="106.0" fill="#f23645"/>
<rect x="283" y="783.0" width="5" height="50.0" fill="#f23645"/>
<rect x="293" y="807.0" width="1" height="51.0" fill="#089981"/>
<rect x="291" y="814.0" width="5" height="19.0" fill="#089981"/>
<rect x="300" y="773.0" width="1" height="61.0" fill="#089981"/>
<rect x="298" y="786.0" width="5" height="28.0" fill="#089981"/>
<rect x="307" y="768.0" width="1" height="24.0" fill="#089981"/>
<rect x="305" y="779.0" width="5" height="8.0" fill="#089981"/>
<rect x="314" y="775.0" width="1" height="124.0" fill="#f23645"/>
<rect x="312" y="779.0" width="5" height="96.0" fill="#f23645"/>
<rect x="321" y="837.0" width="1" height="169.0" fill="#f23645"/>
<rect x="319" y="875.0" width="5" height="10.0" fill="#f23645"/>
<rect x="328" y="853.0" width="1" height="83.0" fill="#f23645"/>
<rect x="326" y="885.0" width="5" height="44.0" fill="#f23645"/>
<rect x="335" y="804.0" width="1" height="155.0" fill="#089981"/>
<rect x="333" y="819.0" width="5" height="110.0" fill="#089981"/>
<rect x="342" y="817.0" width="1" height="57.0" fill="#f23645"/>
<rect x="340" y="819.0" width="5" height="38.0" fill="#f23645"/>
<rect x="349" y="813.0" width="1" height="51.0" fill="#089981"/>
<rect x="347" y="832.0" width="5" height="25.0" fill="#089981"/>
<rect x="357" y="762.0" width="1" height="77.0" fill="#089981"/>
<rect x="355" y="774.0" width="5" height="59.0" fill="#089981"/>
<rect x="364" y="736.0" width="1" height="71.0" fill="#f23645"/>
<rect x="362" y="774.0" width="5" height="18.0" fill="#f23645"/>
<rect x="371" y="765.0" width="1" height="32.0" fill="#089981"/>
<rect x="369" y="787.0" width="5" height="5.0" fill="#089981"/>
<rect x="378" y="763.0" width="1" height="56.0" fill="#f23645"/>
<rect x="376" y="787.0" width="5" height="20.0" fill="#f23645"/>
<rect x="385" y="786.0" width="1" height="33.0" fill="#f23645"/>
<rect x="383" y="806.0" width="5" height="1.5" fill="#f23645"/>
<rect x="392" y="794.0" width="1" height="25.0" fill="#f23645"/>
<rect x="390" y="806.0" width="5" height="7.0" fill="#f23645"/>
<rect x="399" y="804.0" width="1" height="19.0" fill="#f23645"/>
<rect x="397" y="812.0" width="5" height="3.0" fill="#f23645"/>
<rect x="406" y="800.0" width="1" height="17.0" fill="#089981"/>
<rect x="404" y="804.0" width="5" height="12.0" fill="#089981"/>
<rect x="414" y="802.0" width="1" height="22.0" fill="#f23645"/>
<rect x="412" y="804.0" width="5" height="5.0" fill="#f23645"/>
<rect x="421" y="782.0" width="1" height="35.0" fill="#089981"/>
<rect x="419" y="805.0" width="5" height="4.0" fill="#089981"/>
<rect x="428" y="735.0" width="1" height="80.0" fill="#089981"/>
<rect x="426" y="751.0" width="5" height="55.0" fill="#089981"/>
<rect x="435" y="713.0" width="1" height="48.0" fill="#089981"/>
<rect x="433" y="749.0" width="5" height="2.0" fill="#089981"/>
<rect x="442" y="741.0" width="1" height="51.0" fill="#f23645"/>
<rect x="440" y="749.0" width="5" height="5.0" fill="#f23645"/>
<rect x="449" y="748.0" width="1" height="23.0" fill="#f23645"/>
<rect x="447" y="754.0" width="5" height="12.0" fill="#f23645"/>
<rect x="456" y="736.0" width="1" height="30.0" fill="#089981"/>
<rect x="454" y="760.0" width="5" height="6.0" fill="#089981"/>
<rect x="463" y="716.0" width="1" height="58.0" fill="#089981"/>
<rect x="461" y="734.0" width="5" height="26.0" fill="#089981"/>
<rect x="470" y="687.0" width="1" height="62.0" fill="#089981"/>
<rect x="468" y="716.0" width="5" height="19.0" fill="#089981"/>
<rect x="478" y="708.0" width="1" height="38.0" fill="#f23645"/>
<rect x="476" y="716.0" width="5" height="25.0" fill="#f23645"/>
<rect x="485" y="731.0" width="1" height="57.0" fill="#f23645"/>
<rect x="483" y="740.0" width="5" height="20.0" fill="#f23645"/>
<rect x="492" y="732.0" width="1" height="29.0" fill="#089981"/>
<rect x="490" y="751.0" width="5" height="10.0" fill="#089981"/>
<rect x="499" y="739.0" width="1" height="21.0" fill="#f23645"/>
<rect x="497" y="751.0" width="5" height="3.0" fill="#f23645"/>
<rect x="506" y="748.0" width="1" height="18.0" fill="#f23645"/>
<rect x="504" y="753.0" width="5" height="10.0" fill="#f23645"/>
<rect x="513" y="749.0" width="1" height="28.0" fill="#f23645"/>
<rect x="511" y="762.0" width="5" height="14.0" fill="#f23645"/>
<rect x="520" y="757.0" width="1" height="38.0" fill="#f23645"/>
<rect x="518" y="775.0" width="5" height="12.0" fill="#f23645"/>
<rect x="527" y="774.0" width="1" height="35.0" fill="#089981"/>
<rect x="525" y="776.0" width="5" height="11.0" fill="#089981"/>
<rect x="534" y="770.0" width="1" height="27.0" fill="#f23645"/>
<rect x="532" y="776.0" width="5" height="12.0" fill="#f23645"/>
<rect x="542" y="701.0" width="1" height="91.0" fill="#089981"/>
<rect x="540" y="702.0" width="5" height="86.0" fill="#089981"/>
<rect x="549" y="660.0" width="1" height="60.0" fill="#089981"/>
<rect x="547" y="695.0" width="5" height="7.0" fill="#089981"/>
<rect x="556" y="638.0" width="1" height="60.0" fill="#089981"/>
<rect x="554" y="641.0" width="5" height="55.0" fill="#089981"/>
<rect x="563" y="635.0" width="1" height="66.0" fill="#f23645"/>
<rect x="561" y="641.0" width="5" height="44.0" fill="#f23645"/>
<rect x="570" y="563.0" width="1" height="128.0" fill="#089981"/>
<rect x="568" y="610.0" width="5" height="75.0" fill="#089981"/>
<rect x="577" y="584.0" width="1" height="78.0" fill="#089981"/>
<rect x="575" y="593.0" width="5" height="17.0" fill="#089981"/>
<rect x="584" y="564.0" width="1" height="55.0" fill="#f23645"/>
<rect x="582" y="593.0" width="5" height="15.0" fill="#f23645"/>
<rect x="591" y="598.0" width="1" height="93.0" fill="#f23645"/>
<rect x="589" y="607.0" width="5" height="70.0" fill="#f23645"/>
<rect x="598" y="654.0" width="1" height="39.0" fill="#f23645"/>
<rect x="596" y="677.0" width="5" height="3.0" fill="#f23645"/>
<rect x="606" y="676.0" width="1" height="38.0" fill="#f23645"/>
<rect x="604" y="680.0" width="5" height="12.0" fill="#f23645"/>
<rect x="613" y="650.0" width="1" height="49.0" fill="#089981"/>
<rect x="611" y="659.0" width="5" height="33.0" fill="#089981"/>
<rect x="620" y="654.0" width="1" height="66.0" fill="#f23645"/>
<rect x="618" y="659.0" width="5" height="21.0" fill="#f23645"/>
<rect x="627" y="667.0" width="1" height="41.0" fill="#f23645"/>
<rect x="625" y="680.0" width="5" height="11.0" fill="#f23645"/>
<rect x="634" y="659.0" width="1" height="41.0" fill="#089981"/>
<rect x="632" y="673.0" width="5" height="18.0" fill="#089981"/>
<rect x="641" y="648.0" width="1" height="27.0" fill="#089981"/>
<rect x="639" y="658.0" width="5" height="16.0" fill="#089981"/>
<rect x="648" y="637.0" width="1" height="83.0" fill="#f23645"/>
<rect x="646" y="658.0" width="5" height="57.0" fill="#f23645"/>
<rect x="655" y="688.0" width="1" height="31.0" fill="#089981"/>
<rect x="653" y="701.0" width="5" height="15.0" fill="#089981"/>
<rect x="663" y="694.0" width="1" height="33.0" fill="#089981"/>
<rect x="661" y="696.0" width="5" height="5.0" fill="#089981"/>
<rect x="670" y="689.0" width="1" height="26.0" fill="#f23645"/>
<rect x="668" y="696.0" width="5" height="14.0" fill="#f23645"/>
<rect x="677" y="691.0" width="1" height="36.0" fill="#089981"/>
<rect x="675" y="708.0" width="5" height="3.0" fill="#089981"/>
<rect x="684" y="705.0" width="1" height="39.0" fill="#f23645"/>
<rect x="682" y="708.0" width="5" height="17.0" fill="#f23645"/>
<rect x="691" y="709.0" width="1" height="30.0" fill="#f23645"/>
<rect x="689" y="725.0" width="5" height="13.0" fill="#f23645"/>
<rect x="698" y="735.0" width="1" height="51.0" fill="#f23645"/>
<rect x="696" y="738.0" width="5" height="45.0" fill="#f23645"/>
<rect x="705" y="754.0" width="1" height="54.0" fill="#089981"/>
<rect x="703" y="768.0" width="5" height="15.0" fill="#089981"/>
<rect x="712" y="762.0" width="1" height="26.0" fill="#089981"/>
<rect x="710" y="765.0" width="5" height="4.0" fill="#089981"/>
<rect x="719" y="755.0" width="1" height="28.0" fill="#089981"/>
<rect x="717" y="758.0" width="5" height="8.0" fill="#089981"/>
<rect x="727" y="722.0" width="1" height="40.0" fill="#089981"/>
<rect x="725" y="738.0" width="5" height="21.0" fill="#089981"/>
<rect x="734" y="728.0" width="1" height="31.0" fill="#f23645"/>
<rect x="732" y="738.0" width="5" height="19.0" fill="#f23645"/>
<rect x="741" y="745.0" width="1" height="72.0" fill="#f23645"/>
<rect x="739" y="756.0" width="5" height="46.0" fill="#f23645"/>
<rect x="748" y="761.0" width="1" height="45.0" fill="#089981"/>
<rect x="746" y="774.0" width="5" height="28.0" fill="#089981"/>
<rect x="755" y="760.0" width="1" height="18.0" fill="#089981"/>
<rect x="753" y="766.0" width="5" height="9.0" fill="#089981"/>
<rect x="762" y="714.0" width="1" height="57.0" fill="#089981"/>
<rect x="760" y="728.0" width="5" height="38.0" fill="#089981"/>
<rect x="769" y="701.0" width="1" height="46.0" fill="#089981"/>
<rect x="767" y="705.0" width="5" height="23.0" fill="#089981"/>
<rect x="776" y="702.0" width="1" height="28.0" fill="#f23645"/>
<rect x="774" y="705.0" width="5" height="6.0" fill="#f23645"/>
<rect x="783" y="698.0" width="1" height="35.0" fill="#f23645"/>
<rect x="781" y="711.0" width="5" height="17.0" fill="#f23645"/>
<rect x="791" y="725.0" width="1" height="44.0" fill="#f23645"/>
<rect x="789" y="727.0" width="5" height="35.0" fill="#f23645"/>
<rect x="798" y="760.0" width="1" height="47.0" fill="#f23645"/>
<rect x="796" y="761.0" width="5" height="19.0" fill="#f23645"/>
<rect x="805" y="765.0" width="1" height="30.0" fill="#f23645"/>
<rect x="803" y="779.0" width="5" height="4.0" fill="#f23645"/>
<rect x="812" y="767.0" width="1" height="16.0" fill="#089981"/>
<rect x="810" y="771.0" width="5" height="12.0" fill="#089981"/>
<rect x="819" y="698.0" width="1" height="79.0" fill="#089981"/>
<rect x="817" y="740.0" width="5" height="32.0" fill="#089981"/>
<rect x="826" y="732.0" width="1" height="48.0" fill="#f23645"/>
<rect x="824" y="740.0" width="5" height="34.0" fill="#f23645"/>
<rect x="833" y="765.0" width="1" height="26.0" fill="#089981"/>
<rect x="831" y="769.0" width="5" height="5.0" fill="#089981"/>
<rect x="840" y="763.0" width="1" height="16.0" fill="#f23645"/>
<rect x="838" y="769.0" width="5" height="3.0" fill="#f23645"/>
<rect x="847" y="765.0" width="1" height="41.0" fill="#f23645"/>
<rect x="845" y="772.0" width="5" height="20.0" fill="#f23645"/>
<rect x="855" y="780.0" width="1" height="61.0" fill="#f23645"/>
<rect x="853" y="791.0" width="5" height="25.0" fill="#f23645"/>
<rect x="862" y="805.0" width="1" height="75.0" fill="#f23645"/>
<rect x="860" y="815.0" width="5" height="21.0" fill="#f23645"/>
<rect x="869" y="770.0" width="1" height="88.0" fill="#089981"/>
<rect x="867" y="774.0" width="5" height="61.0" fill="#089981"/>
<rect x="876" y="750.0" width="1" height="36.0" fill="#089981"/>
<rect x="874" y="761.0" width="5" height="14.0" fill="#089981"/>
<rect x="883" y="745.0" width="1" height="25.0" fill="#f23645"/>
<rect x="881" y="761.0" width="5" height="2.0" fill="#f23645"/>
<rect x="890" y="751.0" width="1" height="50.0" fill="#f23645"/>
<rect x="888" y="763.0" width="5" height="36.0" fill="#f23645"/>
<rect x="897" y="776.0" width="1" height="36.0" fill="#089981"/>
<rect x="895" y="781.0" width="5" height="18.0" fill="#089981"/>
<rect x="904" y="753.0" width="1" height="32.0" fill="#089981"/>
<rect x="902" y="763.0" width="5" height="19.0" fill="#089981"/>
<rect x="912" y="749.0" width="1" height="17.0" fill="#089981"/>
<rect x="910" y="754.0" width="5" height="10.0" fill="#089981"/>
<rect x="919" y="702.0" width="1" height="68.0" fill="#089981"/>
<rect x="917" y="741.0" width="5" height="14.0" fill="#089981"/>
<rect x="926" y="735.0" width="1" height="43.0" fill="#f23645"/>
<rect x="924" y="741.0" width="5" height="28.0" fill="#f23645"/>
<rect x="933" y="717.0" width="1" height="57.0" fill="#089981"/>
<rect x="931" y="742.0" width="5" height="28.0" fill="#089981"/>
<rect x="940" y="709.0" width="1" height="35.0" fill="#089981"/>
<rect x="938" y="732.0" width="5" height="11.0" fill="#089981"/>
<rect x="947" y="728.0" width="1" height="30.0" fill="#f23645"/>
<rect x="945" y="732.0" width="5" height="16.0" fill="#f23645"/>
<rect x="954" y="742.0" width="1" height="14.0" fill="#f23645"/>
<rect x="952" y="747.0" width="5" height="2.0" fill="#f23645"/>
<rect x="961" y="718.0" width="1" height="34.0" fill="#089981"/>
<rect x="959" y="726.0" width="5" height="24.0" fill="#089981"/>
<rect x="968" y="691.0" width="1" height="42.0" fill="#f23645"/>
<rect x="966" y="726.0" width="5" height="1.5" fill="#f23645"/>
<rect x="976" y="704.0" width="1" height="32.0" fill="#089981"/>
<rect x="974" y="709.0" width="5" height="18.0" fill="#089981"/>
<rect x="983" y="659.0" width="1" height="55.0" fill="#089981"/>
<rect x="981" y="670.0" width="5" height="39.0" fill="#089981"/>
<rect x="990" y="601.0" width="1" height="72.0" fill="#089981"/>
<rect x="988" y="610.0" width="5" height="61.0" fill="#089981"/>
<rect x="997" y="427.0" width="1" height="197.0" fill="#089981"/>
<rect x="995" y="530.0" width="5" height="80.0" fill="#089981"/>
<rect x="1004" y="481.0" width="1" height="78.0" fill="#089981"/>
<rect x="1002" y="527.0" width="5" height="3.0" fill="#089981"/>
<rect x="1011" y="461.0" width="1" height="71.0" fill="#089981"/>
<rect x="1009" y="485.0" width="5" height="42.0" fill="#089981"/>
<rect x="1018" y="400.0" width="1" height="92.0" fill="#089981"/>
<rect x="1016" y="433.0" width="5" height="52.0" fill="#089981"/>
<rect x="1025" y="433.0" width="1" height="66.0" fill="#f23645"/>
<rect x="1023" y="433.0" width="5" height="18.0" fill="#f23645"/>
<rect x="1032" y="373.0" width="1" height="95.0" fill="#089981"/>
<rect x="1030" y="399.0" width="5" height="52.0" fill="#089981"/>
<rect x="1040" y="182.0" width="1" height="238.0" fill="#089981"/>
<rect x="1038" y="211.0" width="5" height="189.0" fill="#089981"/>
<rect x="1047" y="135.0" width="1" height="134.0" fill="#f23645"/>
<rect x="1045" y="211.0" width="5" height="28.0" fill="#f23645"/>
<rect x="1054" y="208.0" width="1" height="55.0" fill="#089981"/>
<rect x="1052" y="234.0" width="5" height="5.0" fill="#089981"/>
<rect x="1061" y="178.0" width="1" height="73.0" fill="#089981"/>
<rect x="1059" y="222.0" width="5" height="13.0" fill="#089981"/>
<rect x="1068" y="138.0" width="1" height="104.0" fill="#089981"/>
<rect x="1066" y="181.0" width="5" height="41.0" fill="#089981"/>
<rect x="1075" y="170.0" width="1" height="65.0" fill="#089981"/>
<rect x="1073" y="181.0" width="5" height="1.5" fill="#089981"/>
<rect x="1082" y="182.0" width="1" height="225.0" fill="#f23645"/>
<rect x="1080" y="182.0" width="5" height="156.0" fill="#f23645"/>
<rect x="1089" y="302.0" width="1" height="132.0" fill="#f23645"/>
<rect x="1087" y="337.0" width="5" height="17.0" fill="#f23645"/>
<rect x="1096" y="346.0" width="1" height="70.0" fill="#f23645"/>
<rect x="1094" y="353.0" width="5" height="3.0" fill="#f23645"/>
<rect x="1104" y="322.0" width="1" height="46.0" fill="#089981"/>
<rect x="1102" y="344.0" width="5" height="12.0" fill="#089981"/>
<rect x="1111" y="308.0" width="1" height="41.0" fill="#089981"/>
<rect x="1109" y="313.0" width="5" height="32.0" fill="#089981"/>
<rect x="1118" y="274.0" width="1" height="96.0" fill="#f23645"/>
<rect x="1116" y="313.0" width="5" height="51.0" fill="#f23645"/>
<rect x="1125" y="336.0" width="1" height="56.0" fill="#089981"/>
<rect x="1123" y="361.0" width="5" height="2.0" fill="#089981"/>
<rect x="1132" y="346.0" width="1" height="69.0" fill="#f23645"/>
<rect x="1130" y="361.0" width="5" height="14.0" fill="#f23645"/>
<rect x="1139" y="339.0" width="1" height="71.0" fill="#f23645"/>
<rect x="1137" y="374.0" width="5" height="32.0" fill="#f23645"/>
<rect x="1146" y="390.0" width="1" height="71.0" fill="#f23645"/>
<rect x="1144" y="406.0" width="5" height="26.0" fill="#f23645"/>
<rect x="1153" y="407.0" width="1" height="119.0" fill="#f23645"/>
<rect x="1151" y="432.0" width="5" height="82.0" fill="#f23645"/>
<rect x="1161" y="431.0" width="1" height="100.0" fill="#089981"/>
<rect x="1159" y="438.0" width="5" height="76.0" fill="#089981"/>
<rect x="1168" y="377.0" width="1" height="67.0" fill="#089981"/>
<rect x="1166" y="385.0" width="5" height="53.0" fill="#089981"/>
<rect x="1175" y="370.0" width="1" height="80.0" fill="#f23645"/>
<rect x="1173" y="385.0" width="5" height="47.0" fill="#f23645"/>
<rect x="1182" y="407.0" width="1" height="49.0" fill="#089981"/>
<rect x="1180" y="419.0" width="5" height="12.0" fill="#089981"/>
<rect x="1189" y="273.0" width="1" height="157.0" fill="#089981"/>
<rect x="1187" y="279.0" width="5" height="141.0" fill="#089981"/>
<rect x="1196" y="252.0" width="1" height="75.0" fill="#f23645"/>
<rect x="1194" y="279.0" width="5" height="14.0" fill="#f23645"/>
<rect x="1203" y="267.0" width="1" height="59.0" fill="#f23645"/>
<rect x="1201" y="293.0" width="5" height="27.0" fill="#f23645"/>
<rect x="1210" y="296.0" width="1" height="55.0" fill="#f23645"/>
<rect x="1208" y="319.0" width="5" height="17.0" fill="#f23645"/>
<rect x="1217" y="273.0" width="1" height="92.0" fill="#f23645"/>
<rect x="1215" y="336.0" width="5" height="25.0" fill="#f23645"/>
<rect x="1225" y="285.0" width="1" height="85.0" fill="#089981"/>
<rect x="1223" y="301.0" width="5" height="60.0" fill="#089981"/>
<rect x="1232" y="273.0" width="1" height="56.0" fill="#089981"/>
<rect x="1230" y="298.0" width="5" height="4.0" fill="#089981"/>
<rect x="1239" y="266.0" width="1" height="152.0" fill="#f23645"/>
<rect x="1237" y="298.0" width="5" height="84.0" fill="#f23645"/>
<rect x="1246" y="355.0" width="1" height="59.0" fill="#f23645"/>
<rect x="1244" y="381.0" width="5" height="1.5" fill="#f23645"/>
<rect x="1253" y="349.0" width="1" height="35.0" fill="#089981"/>
<rect x="1251" y="370.0" width="5" height="13.0" fill="#089981"/>
<rect x="1260" y="353.0" width="1" height="28.0" fill="#f23645"/>
<rect x="1258" y="370.0" width="5" height="8.0" fill="#f23645"/>
<rect x="1267" y="375.0" width="1" height="65.0" fill="#f23645"/>
<rect x="1265" y="378.0" width="5" height="11.0" fill="#f23645"/>
<rect x="1274" y="382.0" width="1" height="97.0" fill="#f23645"/>
<rect x="1272" y="389.0" width="5" height="87.0" fill="#f23645"/>
<rect x="1281" y="421.0" width="1" height="71.0" fill="#089981"/>
<rect x="1279" y="436.0" width="5" height="40.0" fill="#089981"/>
<rect x="1289" y="434.0" width="1" height="48.0" fill="#f23645"/>
<rect x="1287" y="436.0" width="5" height="43.0" fill="#f23645"/>
<rect x="1296" y="370.0" width="1" height="137.0" fill="#089981"/>
<rect x="1294" y="384.0" width="5" height="95.0" fill="#089981"/>
<rect x="1303" y="383.0" width="1" height="44.0" fill="#f23645"/>
<rect x="1301" y="384.0" width="5" height="11.0" fill="#f23645"/>
<rect x="1310" y="361.0" width="1" height="59.0" fill="#f23645"/>
<rect x="1308" y="395.0" width="5" height="10.0" fill="#f23645"/>
<rect x="1317" y="394.0" width="1" height="96.0" fill="#f23645"/>
<rect x="1315" y="404.0" width="5" height="73.0" fill="#f23645"/>
<rect x="1324" y="381.0" width="1" height="99.0" fill="#089981"/>
<rect x="1322" y="410.0" width="5" height="67.0" fill="#089981"/>
<rect x="1331" y="396.0" width="1" height="35.0" fill="#f23645"/>
<rect x="1329" y="410.0" width="5" height="20.0" fill="#f23645"/>
<rect x="1338" y="404.0" width="1" height="36.0" fill="#f23645"/>
<rect x="1336" y="429.0" width="5" height="1.5" fill="#f23645"/>
<rect x="1345" y="426.0" width="1" height="85.0" fill="#f23645"/>
<rect x="1343" y="430.0" width="5" height="62.0" fill="#f23645"/>
<rect x="1353" y="486.0" width="1" height="32.0" fill="#f23645"/>
<rect x="1351" y="492.0" width="5" height="1.5" fill="#f23645"/>
<rect x="1360" y="471.0" width="1" height="41.0" fill="#f23645"/>
<rect x="1358" y="493.0" width="5" height="18.0" fill="#f23645"/>
<rect x="1367" y="484.0" width="1" height="60.0" fill="#f23645"/>
<rect x="1365" y="511.0" width="5" height="8.0" fill="#f23645"/>
<rect x="1374" y="473.0" width="1" height="50.0" fill="#089981"/>
<rect x="1372" y="474.0" width="5" height="45.0" fill="#089981"/>
<rect x="1381" y="464.0" width="1" height="31.0" fill="#f23645"/>
<rect x="1379" y="474.0" width="5" height="9.0" fill="#f23645"/>
<rect x="1388" y="474.0" width="1" height="33.0" fill="#f23645"/>
<rect x="1386" y="482.0" width="5" height="22.0" fill="#f23645"/>
<rect x="1395" y="464.0" width="1" height="46.0" fill="#089981"/>
<rect x="1393" y="494.0" width="5" height="10.0" fill="#089981"/>
<rect x="1402" y="488.0" width="1" height="15.0" fill="#f23645"/>
<rect x="1400" y="494.0" width="5" height="2.0" fill="#f23645"/>
<rect x="1410" y="446.0" width="1" height="50.0" fill="#089981"/>
<rect x="1408" y="468.0" width="5" height="28.0" fill="#089981"/>
<rect x="1417" y="417.0" width="1" height="56.0" fill="#089981"/>
<rect x="1415" y="428.0" width="5" height="41.0" fill="#089981"/>
<rect x="1424" y="401.0" width="1" height="42.0" fill="#f23645"/>
<rect x="1422" y="428.0" width="5" height="11.0" fill="#f23645"/>
<rect x="1431" y="405.0" width="1" height="38.0" fill="#089981"/>
<rect x="1429" y="422.0" width="5" height="17.0" fill="#089981"/>
<rect x="1438" y="394.0" width="1" height="42.0" fill="#089981"/>
<rect x="1436" y="398.0" width="5" height="25.0" fill="#089981"/>
<rect x="1445" y="357.0" width="1" height="50.0" fill="#089981"/>
<rect x="1443" y="370.0" width="5" height="28.0" fill="#089981"/>
<rect x="1452" y="336.0" width="1" height="41.0" fill="#089981"/>
<rect x="1450" y="364.0" width="5" height="7.0" fill="#089981"/>
<rect x="1459" y="361.0" width="1" height="22.0" fill="#f23645"/>
<rect x="1457" y="364.0" width="5" height="18.0" fill="#f23645"/>
<line x1="1075" y1="173.6" x2="1495.3" y2="426" stroke="#3c54c8" stroke-width="2"/>
<line x1="854.3" y1="760.6" x2="1017.8" y2="663.3" stroke="#3c54c8" stroke-width="2"/>
<line x1="871.5" y1="831.2" x2="1032.4" y2="696.8" stroke="#3c54c8" stroke-width="2"/>
</g>
<g clip-path="url(#cr)">
<rect x="10" y="1125.4" width="1928" height="47.8" fill="#7e57c2" fill-opacity="0.1"/>
<line x1="10" y1="1125.4" x2="1938" y2="1125.4" stroke="#787b86" stroke-width="1" stroke-dasharray="5 6"/>
<line x1="10" y1="1149.5" x2="1938" y2="1149.5" stroke="#787b86" stroke-width="1" stroke-dasharray="5 6"/>
<line x1="10" y1="1173.4" x2="1938" y2="1173.4" stroke="#787b86" stroke-width="1" stroke-dasharray="5 6"/>
<polygon points="975.5,1125.4 975.5,1125.4 982.4,1125.4 989.4,1121.9 996.3,1114.5 1003.3,1114.5 1011.1,1111.0 1018.0,1108.0 1024.6,1112.7 1031.9,1109.8 1038.9,1102.8 1045.8,1108.0 1054.6,1108.0 1061.5,1107.5 1068.5,1105.8 1075.4,1105.8 1081.8,1125.4 1081.8,1125.4" fill="url(#gob)"/>
<path d="M10.6,1150.4 C14.5,1150.8 25.8,1151.5 34.0,1152.5 C42.2,1153.5 50.0,1155.9 60.1,1156.5 C70.2,1157.1 84.8,1156.0 94.9,1156.0 C105.1,1156.0 112.3,1157.0 121.0,1156.5 C129.7,1156.0 136.9,1153.7 147.0,1153.0 C157.1,1152.3 170.2,1152.9 181.8,1152.5 C193.4,1152.1 207.8,1151.2 216.5,1150.7 C225.2,1150.2 225.2,1149.2 233.9,1149.2 C242.6,1149.2 257.1,1149.4 268.7,1150.4 C280.3,1151.4 293.0,1153.6 303.4,1155.3 C313.8,1157.0 322.2,1160.0 331.3,1160.8 C340.4,1161.6 348.2,1160.7 358.0,1160.0 C367.8,1159.3 378.7,1157.9 389.8,1156.5 C400.9,1155.1 412.9,1153.1 424.5,1151.8 C436.1,1150.5 447.7,1149.9 459.3,1148.7 C470.9,1147.5 482.4,1145.3 494.0,1144.8 C505.6,1144.3 517.2,1145.9 528.8,1145.5 C540.4,1145.1 552.0,1143.6 563.6,1142.6 C575.2,1141.6 586.7,1140.6 598.3,1139.6 C609.9,1138.6 621.5,1136.5 633.1,1136.8 C644.7,1137.1 655.8,1139.4 667.8,1141.4 C679.8,1143.4 693.8,1147.0 705.0,1149.0 C716.2,1151.0 724.0,1152.7 734.8,1153.7 C745.5,1154.7 757.9,1155.0 769.5,1155.0 C781.1,1155.0 792.7,1154.0 804.3,1153.7 C815.9,1153.4 827.4,1153.0 839.0,1153.2 C850.6,1153.4 863.6,1154.7 873.8,1155.0 C884.0,1155.3 890.7,1155.2 900.0,1154.8 C909.3,1154.4 919.9,1153.8 929.8,1152.6 C939.7,1151.4 949.7,1149.8 959.6,1147.8 C969.5,1145.8 979.5,1143.3 989.4,1140.6 C999.3,1137.9 1009.3,1135.0 1019.2,1131.7 C1029.1,1128.4 1040.3,1123.8 1049.0,1120.5 C1057.7,1117.2 1066.3,1113.6 1071.3,1112.0 C1076.3,1110.4 1072.6,1110.1 1078.8,1110.9 C1085.0,1111.7 1098.7,1114.3 1108.6,1116.8 C1118.5,1119.3 1127.2,1121.5 1138.4,1125.7 C1149.6,1129.9 1165.3,1139.2 1175.6,1142.1 C1185.9,1145.0 1192.8,1142.5 1200.0,1142.9 C1207.2,1143.3 1209.9,1144.4 1218.8,1144.5 C1227.7,1144.6 1243.4,1143.1 1253.5,1143.3 C1263.6,1143.5 1272.3,1144.8 1279.6,1145.4 C1286.8,1146.0 1289.8,1146.3 1297.0,1147.1 C1304.2,1147.9 1313.0,1149.1 1323.1,1150.3 C1333.2,1151.5 1347.5,1153.4 1357.8,1154.1 C1368.1,1154.8 1377.3,1154.3 1385.0,1154.4 C1392.7,1154.5 1396.8,1154.7 1403.9,1154.7 C1411.0,1154.8 1420.5,1155.3 1427.6,1154.7 C1434.7,1154.1 1441.3,1152.0 1446.5,1151.1 C1451.7,1150.1 1456.5,1149.3 1458.5,1149.0" fill="none" stroke="#f1e39a" stroke-width="2" stroke-linejoin="round" stroke-linecap="round" />
<polyline points="10.6,1153.0 15.0,1153.0 21.9,1166.0 28.9,1163.4 35.8,1167.4 42.8,1167.8 49.7,1169.5 57.5,1166.0 65.0,1133.4 72.0,1152.5 79.3,1150.4 86.2,1149.0 93.2,1146.1 100.1,1152.5 107.1,1154.7 114.0,1159.1 121.8,1162.2 128.8,1157.4 135.7,1154.7 142.7,1153.0 149.6,1150.1 156.6,1148.7 164.4,1152.1 171.4,1150.4 178.3,1152.1 185.6,1142.6 192.6,1146.6 199.2,1149.0 206.1,1149.5 213.1,1146.9 220.0,1146.1 227.8,1146.6 234.8,1150.7 242.6,1151.3 249.6,1157.4 256.5,1160.5 263.5,1160.5 271.3,1162.6 278.3,1159.4 285.2,1164.3 292.2,1161.2 300.0,1156.5 306.9,1156.0 313.9,1166.0 320.8,1167.4 327.8,1170.9 334.7,1155.3 341.7,1158.2 348.6,1154.7 356.5,1148.3 362.0,1150.0 369.8,1149.5 377.6,1151.8 384.5,1152.1 391.5,1153.0 399.3,1153.5 406.3,1151.3 413.2,1152.1 420.2,1151.3 428.0,1141.7 435.0,1141.4 441.9,1142.6 448.8,1145.2 455.8,1144.3 462.8,1139.6 469.7,1136.1 476.7,1141.7 483.6,1146.6 491.4,1144.3 498.4,1145.5 505.3,1147.3 512.3,1150.4 519.8,1153.5 527.1,1150.0 534.0,1153.5 541.0,1135.1 547.9,1133.9 555.7,1126.1 563.2,1136.8 570.2,1127.5 575.7,1125.7 584.4,1129.2 590.5,1142.1 597.4,1143.1 604.9,1145.2 612.2,1140.3 619.2,1143.8 627.0,1146.1 633.9,1143.4 640.9,1140.8 647.8,1151.3 654.8,1149.5 661.7,1148.3 669.2,1150.7 676.5,1150.0 683.5,1153.5 690.4,1156.0 697.4,1163.4 705.2,1159.6 712.2,1159.0 719.1,1156.7 726.1,1152.7 733.0,1156.2 740.8,1164.5 747.8,1157.2 754.7,1155.0 761.7,1147.1 768.6,1142.8 775.6,1144.5 783.4,1148.0 790.4,1155.0 797.3,1157.9 804.3,1158.4 811.2,1155.8 819.0,1148.5 826.0,1155.5 833.0,1154.4 839.9,1155.0 846.9,1159.3 854.7,1163.6 861.6,1166.3 868.6,1151.0 875.5,1148.5 882.5,1149.2 890.0,1155.8 897.3,1152.0 904.7,1147.5 911.7,1145.4 918.6,1143.3 925.9,1150.3 932.9,1144.5 939.8,1142.3 946.8,1146.3 954.1,1146.3 961.6,1141.6 968.5,1141.6 975.5,1136.7 982.4,1130.6 989.4,1121.9 996.3,1114.5 1003.3,1114.5 1011.1,1111.0 1018.0,1108.0 1024.6,1112.7 1031.9,1109.8 1038.9,1102.8 1045.8,1108.0 1054.6,1108.0 1061.5,1107.5 1068.5,1105.8 1075.4,1105.8 1081.8,1133.2 1089.3,1135.8 1096.3,1135.8 1103.2,1135.0 1110.7,1131.8 1117.6,1139.3 1124.9,1139.3 1131.9,1141.6 1138.8,1145.7 1145.8,1149.7 1152.8,1159.7 1160.6,1149.2 1167.5,1143.7 1175.0,1149.2 1181.4,1148.0 1188.4,1134.6 1196.2,1137.1 1203.2,1139.8 1210.1,1141.9 1217.1,1144.5 1224.0,1138.4 1231.8,1138.4 1238.8,1148.9 1245.7,1149.2 1252.7,1147.1 1259.6,1148.0 1266.6,1150.3 1274.1,1159.7 1281.0,1155.0 1288.3,1159.0 1295.3,1147.1 1302.2,1148.5 1309.5,1149.2 1317.0,1157.2 1323.1,1150.3 1330.0,1151.5 1337.8,1151.5 1344.8,1157.9 1351.7,1158.4 1358.7,1160.2 1366.5,1161.0 1373.5,1155.0 1380.4,1155.5 1388.3,1157.8 1395.4,1156.3 1402.5,1156.1 1409.5,1151.0 1417.2,1145.2 1423.8,1146.6 1429.9,1144.3 1437.5,1140.5 1445.0,1136.5 1452.1,1136.0 1458.5,1139.6" fill="none" stroke="#6f5ca6" stroke-width="1.2" stroke-linejoin="round" stroke-linecap="round" />
</g>
<text x="1947.4" y="36.4" font-size="11.5" fill="#131722" textLength="35.0" lengthAdjust="spacingAndGlyphs" >3.9000</text>
<text x="1947.4" y="79.1" font-size="11.5" fill="#131722" textLength="35.0" lengthAdjust="spacingAndGlyphs" >3.8000</text>
<text x="1947.4" y="121.7" font-size="11.5" fill="#131722" textLength="35.0" lengthAdjust="spacingAndGlyphs" >3.7000</text>
<text x="1947.4" y="164.3" font-size="11.5" fill="#131722" textLength="35.0" lengthAdjust="spacingAndGlyphs" >3.6000</text>
<text x="1947.4" y="206.9" font-size="11.5" fill="#131722" textLength="35.0" lengthAdjust="spacingAndGlyphs" >3.5000</text>
<text x="1947.4" y="249.5" font-size="11.5" fill="#131722" textLength="35.0" lengthAdjust="spacingAndGlyphs" >3.4000</text>
<text x="1947.4" y="292.1" font-size="11.5" fill="#131722" textLength="35.0" lengthAdjust="spacingAndGlyphs" >3.3000</text>
<text x="1947.4" y="334.7" font-size="11.5" fill="#131722" textLength="35.0" lengthAdjust="spacingAndGlyphs" >3.2000</text>
<text x="1947.4" y="377.3" font-size="11.5" fill="#131722" textLength="35.0" lengthAdjust="spacingAndGlyphs" >3.1000</text>
<text x="1947.4" y="462.6" font-size="11.5" fill="#131722" textLength="35.0" lengthAdjust="spacingAndGlyphs" >2.9000</text>
<text x="1947.4" y="547.8" font-size="11.5" fill="#131722" textLength="35.0" lengthAdjust="spacingAndGlyphs" >2.7000</text>
<text x="1947.4" y="590.4" font-size="11.5" fill="#131722" textLength="35.0" lengthAdjust="spacingAndGlyphs" >2.6000</text>
<text x="1947.4" y="633.0" font-size="11.5" fill="#131722" textLength="35.0" lengthAdjust="spacingAndGlyphs" >2.5000</text>
<text x="1947.4" y="675.6" font-size="11.5" fill="#131722" textLength="35.0" lengthAdjust="spacingAndGlyphs" >2.4000</text>
<text x="1947.4" y="718.2" font-size="11.5" fill="#131722" textLength="35.0" lengthAdjust="spacingAndGlyphs" >2.3000</text>
<text x="1947.4" y="760.8" font-size="11.5" fill="#131722" textLength="35.0" lengthAdjust="spacingAndGlyphs" >2.2000</text>
<text x="1947.4" y="803.4" font-size="11.5" fill="#131722" textLength="35.0" lengthAdjust="spacingAndGlyphs" >2.1000</text>
<text x="1947.4" y="846.0" font-size="11.5" fill="#131722" textLength="35.0" lengthAdjust="spacingAndGlyphs" >2.0000</text>
<text x="1947.4" y="888.6" font-size="11.5" fill="#131722" textLength="35.0" lengthAdjust="spacingAndGlyphs" >1.9000</text>
<text x="1947.4" y="931.3" font-size="11.5" fill="#131722" textLength="35.0" lengthAdjust="spacingAndGlyphs" >1.8000</text>
<text x="1947.4" y="973.9" font-size="11.5" fill="#131722" textLength="35.0" lengthAdjust="spacingAndGlyphs" >1.7000</text>
<text x="1947.4" y="1016.5" font-size="11.5" fill="#131722" textLength="35.0" lengthAdjust="spacingAndGlyphs" >1.6000</text>
<text x="1947.4" y="1059.1" font-size="11.5" fill="#131722" textLength="35.0" lengthAdjust="spacingAndGlyphs" >1.5000</text>
<text x="1947.5" y="1122.7" font-size="11.5" fill="#131722" textLength="28.8" lengthAdjust="spacingAndGlyphs" >75.00</text>
<clipPath id="c25"><rect x="1940" y="1160" width="60" height="20.5"/></clipPath>
<text x="1947.5" y="1183.9" font-size="11.5" fill="#131722" textLength="28.8" lengthAdjust="spacingAndGlyphs" clip-path="url(#c25)">25.00</text>
<rect x="1881" y="373" width="57.0" height="16.6" rx="2" fill="#f23645"/>
<text x="1885.5" y="386.1" font-size="11.5" fill="#ffffff" font-weight="bold" textLength="48.5" lengthAdjust="spacingAndGlyphs" >XRPUSDT</text>
<rect x="1939" y="373" width="60.0" height="31.0" rx="2" fill="#f23645"/>
<text x="1947" y="386.1" font-size="11.5" fill="#ffffff" font-weight="bold" textLength="35.4" lengthAdjust="spacingAndGlyphs" >3.0799</text>
<text x="1947.4" y="399.8" font-size="11.5" fill="#ffffff" font-weight="bold" textLength="46.3" lengthAdjust="spacingAndGlyphs" >15:37:00</text>
<rect x="1939" y="404.3" width="49.0" height="16.3" rx="2" fill="#5b9cf6"/>
<text x="1947.4" y="417.6" font-size="11.5" fill="#131722" textLength="34.6" lengthAdjust="spacingAndGlyphs" >3.0091</text>
<rect x="1939" y="420.8" width="49.0" height="16.6" rx="2" fill="#0a7514"/>
<text x="1947.4" y="434" font-size="11.5" fill="#ffffff" font-weight="bold" textLength="34.6" lengthAdjust="spacingAndGlyphs" >2.9677</text>
<rect x="1939" y="487.8" width="49.0" height="16.5" rx="2" fill="#f7931a"/>
<text x="1947.4" y="500.8" font-size="11.5" fill="#131722" textLength="34.6" lengthAdjust="spacingAndGlyphs" >2.8100</text>
<rect x="1939" y="594.8" width="49.0" height="16.6" rx="2" fill="#000000"/>
<text x="1947.4" y="607.7" font-size="11.5" fill="#ffffff" font-weight="bold" textLength="34.6" lengthAdjust="spacingAndGlyphs" >2.5611</text>
<rect x="1939" y="1075" width="52.7" height="16.8" rx="2" fill="#ef4a4e"/>
<text x="1946.8" y="1088.1" font-size="11.5" fill="#ffffff" font-weight="bold" textLength="40.9" lengthAdjust="spacingAndGlyphs" >28.73M</text>
<rect x="1939" y="1132.1" width="43.0" height="16.5" rx="2" fill="#7e57c2"/>
<text x="1947.2" y="1145.1" font-size="11.5" fill="#ffffff" font-weight="bold" textLength="29.4" lengthAdjust="spacingAndGlyphs" >57.66</text>
<rect x="1939" y="1148.6" width="43.0" height="17.0" rx="2" fill="#ffeb3b"/>
<text x="1947.2" y="1161.8" font-size="11.5" fill="#131722" textLength="29.4" lengthAdjust="spacingAndGlyphs" >50.03</text>
<text x="47.2" y="1199.3" font-size="12.5" fill="#131722" font-weight="bold" textLength="20.3" lengthAdjust="spacingAndGlyphs" >Mar</text>
<text x="268.5" y="1199.3" font-size="12.5" fill="#131722" font-weight="bold" textLength="19.4" lengthAdjust="spacingAndGlyphs" >Apr</text>
<text x="480.6" y="1199.3" font-size="12.5" fill="#131722" font-weight="bold" textLength="21.8" lengthAdjust="spacingAndGlyphs" >May</text>
<text x="701.3" y="1199.3" font-size="12.5" fill="#131722" font-weight="bold" textLength="20.6" lengthAdjust="spacingAndGlyphs" >Jun</text>
<text x="917.2" y="1199.3" font-size="12.5" fill="#131722" font-weight="bold" textLength="16.4" lengthAdjust="spacingAndGlyphs" >Jul</text>
<text x="1135.6" y="1199.3" font-size="12.5" fill="#131722" font-weight="bold" textLength="20.8" lengthAdjust="spacingAndGlyphs" >Aug</text>
<text x="1356.6" y="1199.3" font-size="12.5" fill="#131722" font-weight="bold" textLength="20.3" lengthAdjust="spacingAndGlyphs" >Sep</text>
<text x="1570.7" y="1199.3" font-size="12.5" fill="#131722" font-weight="bold" textLength="18.5" lengthAdjust="spacingAndGlyphs" >Oct</text>
<text x="1790.7" y="1199.3" font-size="12.5" fill="#131722" font-weight="bold" textLength="20.7" lengthAdjust="spacingAndGlyphs" >Nov</text>
<text x="10.2" y="18.7" font-size="11.5" fill="#131722" textLength="388.8" lengthAdjust="spacingAndGlyphs" >arman_shirinyan created with TradingView.com, Sep 14, 2025 08:23 UTC</text>
<text x="18" y="46" font-size="12.3" fill="#131722" textLength="160.7" lengthAdjust="spacingAndGlyphs" >XRP / TetherUS · 1D · Binance</text>
<text x="186.2" y="46" font-size="12.3" fill="#131722" textLength="43.4" lengthAdjust="spacingAndGlyphs">O<tspan fill="#e0414f">3.1193</tspan></text>
<text x="237.7" y="46" font-size="12.3" fill="#131722" textLength="42.9" lengthAdjust="spacingAndGlyphs">H<tspan fill="#e0414f">3.1267</tspan></text>
<text x="288.4" y="46" font-size="12.3" fill="#131722" textLength="40.6" lengthAdjust="spacingAndGlyphs">L<tspan fill="#e0414f">3.0751</tspan></text>
<text x="337.5" y="46" font-size="12.3" fill="#131722" textLength="42.3" lengthAdjust="spacingAndGlyphs">C<tspan fill="#e0414f">3.0799</tspan></text>
<text x="388" y="46" font-size="12.3" fill="#e0414f" textLength="90.7" lengthAdjust="spacingAndGlyphs" >−0.0394 (−1.26%)</text>
<path d="M12 1231 H24 V1246 H18 V1236.5 H12 Z" fill="#131722"/>
<circle cx="29.2" cy="1234" r="3" fill="#131722"/>
<path d="M34 1231 H41.5 L35.4 1246 H29 Z" fill="#131722"/>
<text x="49.3" y="1245.9" font-size="20.3" fill="#131722" font-weight="bold" textLength="120.3" lengthAdjust="spacingAndGlyphs" >TradingView</text>
</svg></body></html>
